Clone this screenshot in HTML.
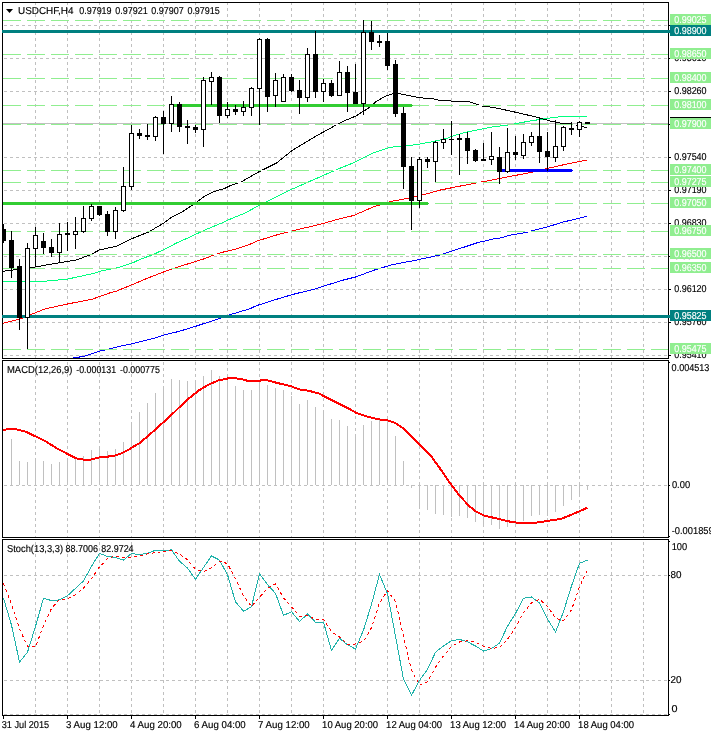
<!DOCTYPE html>
<html lang="en"><head><meta charset="utf-8"><title>USDCHF,H4</title>
<style>html,body{margin:0;padding:0;background:#fff;overflow:hidden}svg{display:block}</style></head>
<body>
<svg width="711" height="733" viewBox="0 0 711 733" shape-rendering="crispEdges" font-family="'Liberation Sans',sans-serif" text-rendering="geometricPrecision">
<defs>
<clipPath id="c1"><rect x="2" y="2" width="666" height="356"/></clipPath>
<clipPath id="c2"><rect x="3" y="361" width="665" height="176"/></clipPath>
<clipPath id="c3"><rect x="3" y="540" width="665" height="175"/></clipPath>
</defs>
<rect x="0" y="0" width="711" height="733" fill="#fff"/>
<path d="M35 3v2h1v-2zM35 8v3h1v-3zM35 14v3h1v-3zM35 20v3h1v-3zM35 26v3h1v-3zM35 32v3h1v-3zM35 38v3h1v-3zM35 44v3h1v-3zM35 50v3h1v-3zM35 56v3h1v-3zM35 62v3h1v-3zM35 68v3h1v-3zM35 74v3h1v-3zM35 80v3h1v-3zM35 86v3h1v-3zM35 92v3h1v-3zM35 98v3h1v-3zM35 104v3h1v-3zM35 110v3h1v-3zM35 116v3h1v-3zM35 122v3h1v-3zM35 128v3h1v-3zM35 134v3h1v-3zM35 140v3h1v-3zM35 146v3h1v-3zM35 152v3h1v-3zM35 158v3h1v-3zM35 164v3h1v-3zM35 170v3h1v-3zM35 176v3h1v-3zM35 182v3h1v-3zM35 188v3h1v-3zM35 194v3h1v-3zM35 200v3h1v-3zM35 206v3h1v-3zM35 212v3h1v-3zM35 218v3h1v-3zM35 224v3h1v-3zM35 230v3h1v-3zM35 236v3h1v-3zM35 242v3h1v-3zM35 248v3h1v-3zM35 254v3h1v-3zM35 260v3h1v-3zM35 266v3h1v-3zM35 272v3h1v-3zM35 278v3h1v-3zM35 284v3h1v-3zM35 290v3h1v-3zM35 296v3h1v-3zM35 302v3h1v-3zM35 308v3h1v-3zM35 314v3h1v-3zM35 320v3h1v-3zM35 326v3h1v-3zM35 332v3h1v-3zM35 338v3h1v-3zM35 344v3h1v-3zM35 350v3h1v-3zM35 356v2h1v-2z" fill="#c0c0c0"/>
<path d="M67 3v2h1v-2zM67 8v3h1v-3zM67 14v3h1v-3zM67 20v3h1v-3zM67 26v3h1v-3zM67 32v3h1v-3zM67 38v3h1v-3zM67 44v3h1v-3zM67 50v3h1v-3zM67 56v3h1v-3zM67 62v3h1v-3zM67 68v3h1v-3zM67 74v3h1v-3zM67 80v3h1v-3zM67 86v3h1v-3zM67 92v3h1v-3zM67 98v3h1v-3zM67 104v3h1v-3zM67 110v3h1v-3zM67 116v3h1v-3zM67 122v3h1v-3zM67 128v3h1v-3zM67 134v3h1v-3zM67 140v3h1v-3zM67 146v3h1v-3zM67 152v3h1v-3zM67 158v3h1v-3zM67 164v3h1v-3zM67 170v3h1v-3zM67 176v3h1v-3zM67 182v3h1v-3zM67 188v3h1v-3zM67 194v3h1v-3zM67 200v3h1v-3zM67 206v3h1v-3zM67 212v3h1v-3zM67 218v3h1v-3zM67 224v3h1v-3zM67 230v3h1v-3zM67 236v3h1v-3zM67 242v3h1v-3zM67 248v3h1v-3zM67 254v3h1v-3zM67 260v3h1v-3zM67 266v3h1v-3zM67 272v3h1v-3zM67 278v3h1v-3zM67 284v3h1v-3zM67 290v3h1v-3zM67 296v3h1v-3zM67 302v3h1v-3zM67 308v3h1v-3zM67 314v3h1v-3zM67 320v3h1v-3zM67 326v3h1v-3zM67 332v3h1v-3zM67 338v3h1v-3zM67 344v3h1v-3zM67 350v3h1v-3zM67 356v2h1v-2z" fill="#c0c0c0"/>
<path d="M99 3v2h1v-2zM99 8v3h1v-3zM99 14v3h1v-3zM99 20v3h1v-3zM99 26v3h1v-3zM99 32v3h1v-3zM99 38v3h1v-3zM99 44v3h1v-3zM99 50v3h1v-3zM99 56v3h1v-3zM99 62v3h1v-3zM99 68v3h1v-3zM99 74v3h1v-3zM99 80v3h1v-3zM99 86v3h1v-3zM99 92v3h1v-3zM99 98v3h1v-3zM99 104v3h1v-3zM99 110v3h1v-3zM99 116v3h1v-3zM99 122v3h1v-3zM99 128v3h1v-3zM99 134v3h1v-3zM99 140v3h1v-3zM99 146v3h1v-3zM99 152v3h1v-3zM99 158v3h1v-3zM99 164v3h1v-3zM99 170v3h1v-3zM99 176v3h1v-3zM99 182v3h1v-3zM99 188v3h1v-3zM99 194v3h1v-3zM99 200v3h1v-3zM99 206v3h1v-3zM99 212v3h1v-3zM99 218v3h1v-3zM99 224v3h1v-3zM99 230v3h1v-3zM99 236v3h1v-3zM99 242v3h1v-3zM99 248v3h1v-3zM99 254v3h1v-3zM99 260v3h1v-3zM99 266v3h1v-3zM99 272v3h1v-3zM99 278v3h1v-3zM99 284v3h1v-3zM99 290v3h1v-3zM99 296v3h1v-3zM99 302v3h1v-3zM99 308v3h1v-3zM99 314v3h1v-3zM99 320v3h1v-3zM99 326v3h1v-3zM99 332v3h1v-3zM99 338v3h1v-3zM99 344v3h1v-3zM99 350v3h1v-3zM99 356v2h1v-2z" fill="#c0c0c0"/>
<path d="M131 3v2h1v-2zM131 8v3h1v-3zM131 14v3h1v-3zM131 20v3h1v-3zM131 26v3h1v-3zM131 32v3h1v-3zM131 38v3h1v-3zM131 44v3h1v-3zM131 50v3h1v-3zM131 56v3h1v-3zM131 62v3h1v-3zM131 68v3h1v-3zM131 74v3h1v-3zM131 80v3h1v-3zM131 86v3h1v-3zM131 92v3h1v-3zM131 98v3h1v-3zM131 104v3h1v-3zM131 110v3h1v-3zM131 116v3h1v-3zM131 122v3h1v-3zM131 128v3h1v-3zM131 134v3h1v-3zM131 140v3h1v-3zM131 146v3h1v-3zM131 152v3h1v-3zM131 158v3h1v-3zM131 164v3h1v-3zM131 170v3h1v-3zM131 176v3h1v-3zM131 182v3h1v-3zM131 188v3h1v-3zM131 194v3h1v-3zM131 200v3h1v-3zM131 206v3h1v-3zM131 212v3h1v-3zM131 218v3h1v-3zM131 224v3h1v-3zM131 230v3h1v-3zM131 236v3h1v-3zM131 242v3h1v-3zM131 248v3h1v-3zM131 254v3h1v-3zM131 260v3h1v-3zM131 266v3h1v-3zM131 272v3h1v-3zM131 278v3h1v-3zM131 284v3h1v-3zM131 290v3h1v-3zM131 296v3h1v-3zM131 302v3h1v-3zM131 308v3h1v-3zM131 314v3h1v-3zM131 320v3h1v-3zM131 326v3h1v-3zM131 332v3h1v-3zM131 338v3h1v-3zM131 344v3h1v-3zM131 350v3h1v-3zM131 356v2h1v-2z" fill="#c0c0c0"/>
<path d="M163 3v2h1v-2zM163 8v3h1v-3zM163 14v3h1v-3zM163 20v3h1v-3zM163 26v3h1v-3zM163 32v3h1v-3zM163 38v3h1v-3zM163 44v3h1v-3zM163 50v3h1v-3zM163 56v3h1v-3zM163 62v3h1v-3zM163 68v3h1v-3zM163 74v3h1v-3zM163 80v3h1v-3zM163 86v3h1v-3zM163 92v3h1v-3zM163 98v3h1v-3zM163 104v3h1v-3zM163 110v3h1v-3zM163 116v3h1v-3zM163 122v3h1v-3zM163 128v3h1v-3zM163 134v3h1v-3zM163 140v3h1v-3zM163 146v3h1v-3zM163 152v3h1v-3zM163 158v3h1v-3zM163 164v3h1v-3zM163 170v3h1v-3zM163 176v3h1v-3zM163 182v3h1v-3zM163 188v3h1v-3zM163 194v3h1v-3zM163 200v3h1v-3zM163 206v3h1v-3zM163 212v3h1v-3zM163 218v3h1v-3zM163 224v3h1v-3zM163 230v3h1v-3zM163 236v3h1v-3zM163 242v3h1v-3zM163 248v3h1v-3zM163 254v3h1v-3zM163 260v3h1v-3zM163 266v3h1v-3zM163 272v3h1v-3zM163 278v3h1v-3zM163 284v3h1v-3zM163 290v3h1v-3zM163 296v3h1v-3zM163 302v3h1v-3zM163 308v3h1v-3zM163 314v3h1v-3zM163 320v3h1v-3zM163 326v3h1v-3zM163 332v3h1v-3zM163 338v3h1v-3zM163 344v3h1v-3zM163 350v3h1v-3zM163 356v2h1v-2z" fill="#c0c0c0"/>
<path d="M195 3v2h1v-2zM195 8v3h1v-3zM195 14v3h1v-3zM195 20v3h1v-3zM195 26v3h1v-3zM195 32v3h1v-3zM195 38v3h1v-3zM195 44v3h1v-3zM195 50v3h1v-3zM195 56v3h1v-3zM195 62v3h1v-3zM195 68v3h1v-3zM195 74v3h1v-3zM195 80v3h1v-3zM195 86v3h1v-3zM195 92v3h1v-3zM195 98v3h1v-3zM195 104v3h1v-3zM195 110v3h1v-3zM195 116v3h1v-3zM195 122v3h1v-3zM195 128v3h1v-3zM195 134v3h1v-3zM195 140v3h1v-3zM195 146v3h1v-3zM195 152v3h1v-3zM195 158v3h1v-3zM195 164v3h1v-3zM195 170v3h1v-3zM195 176v3h1v-3zM195 182v3h1v-3zM195 188v3h1v-3zM195 194v3h1v-3zM195 200v3h1v-3zM195 206v3h1v-3zM195 212v3h1v-3zM195 218v3h1v-3zM195 224v3h1v-3zM195 230v3h1v-3zM195 236v3h1v-3zM195 242v3h1v-3zM195 248v3h1v-3zM195 254v3h1v-3zM195 260v3h1v-3zM195 266v3h1v-3zM195 272v3h1v-3zM195 278v3h1v-3zM195 284v3h1v-3zM195 290v3h1v-3zM195 296v3h1v-3zM195 302v3h1v-3zM195 308v3h1v-3zM195 314v3h1v-3zM195 320v3h1v-3zM195 326v3h1v-3zM195 332v3h1v-3zM195 338v3h1v-3zM195 344v3h1v-3zM195 350v3h1v-3zM195 356v2h1v-2z" fill="#c0c0c0"/>
<path d="M227 3v2h1v-2zM227 8v3h1v-3zM227 14v3h1v-3zM227 20v3h1v-3zM227 26v3h1v-3zM227 32v3h1v-3zM227 38v3h1v-3zM227 44v3h1v-3zM227 50v3h1v-3zM227 56v3h1v-3zM227 62v3h1v-3zM227 68v3h1v-3zM227 74v3h1v-3zM227 80v3h1v-3zM227 86v3h1v-3zM227 92v3h1v-3zM227 98v3h1v-3zM227 104v3h1v-3zM227 110v3h1v-3zM227 116v3h1v-3zM227 122v3h1v-3zM227 128v3h1v-3zM227 134v3h1v-3zM227 140v3h1v-3zM227 146v3h1v-3zM227 152v3h1v-3zM227 158v3h1v-3zM227 164v3h1v-3zM227 170v3h1v-3zM227 176v3h1v-3zM227 182v3h1v-3zM227 188v3h1v-3zM227 194v3h1v-3zM227 200v3h1v-3zM227 206v3h1v-3zM227 212v3h1v-3zM227 218v3h1v-3zM227 224v3h1v-3zM227 230v3h1v-3zM227 236v3h1v-3zM227 242v3h1v-3zM227 248v3h1v-3zM227 254v3h1v-3zM227 260v3h1v-3zM227 266v3h1v-3zM227 272v3h1v-3zM227 278v3h1v-3zM227 284v3h1v-3zM227 290v3h1v-3zM227 296v3h1v-3zM227 302v3h1v-3zM227 308v3h1v-3zM227 314v3h1v-3zM227 320v3h1v-3zM227 326v3h1v-3zM227 332v3h1v-3zM227 338v3h1v-3zM227 344v3h1v-3zM227 350v3h1v-3zM227 356v2h1v-2z" fill="#c0c0c0"/>
<path d="M259 3v2h1v-2zM259 8v3h1v-3zM259 14v3h1v-3zM259 20v3h1v-3zM259 26v3h1v-3zM259 32v3h1v-3zM259 38v3h1v-3zM259 44v3h1v-3zM259 50v3h1v-3zM259 56v3h1v-3zM259 62v3h1v-3zM259 68v3h1v-3zM259 74v3h1v-3zM259 80v3h1v-3zM259 86v3h1v-3zM259 92v3h1v-3zM259 98v3h1v-3zM259 104v3h1v-3zM259 110v3h1v-3zM259 116v3h1v-3zM259 122v3h1v-3zM259 128v3h1v-3zM259 134v3h1v-3zM259 140v3h1v-3zM259 146v3h1v-3zM259 152v3h1v-3zM259 158v3h1v-3zM259 164v3h1v-3zM259 170v3h1v-3zM259 176v3h1v-3zM259 182v3h1v-3zM259 188v3h1v-3zM259 194v3h1v-3zM259 200v3h1v-3zM259 206v3h1v-3zM259 212v3h1v-3zM259 218v3h1v-3zM259 224v3h1v-3zM259 230v3h1v-3zM259 236v3h1v-3zM259 242v3h1v-3zM259 248v3h1v-3zM259 254v3h1v-3zM259 260v3h1v-3zM259 266v3h1v-3zM259 272v3h1v-3zM259 278v3h1v-3zM259 284v3h1v-3zM259 290v3h1v-3zM259 296v3h1v-3zM259 302v3h1v-3zM259 308v3h1v-3zM259 314v3h1v-3zM259 320v3h1v-3zM259 326v3h1v-3zM259 332v3h1v-3zM259 338v3h1v-3zM259 344v3h1v-3zM259 350v3h1v-3zM259 356v2h1v-2z" fill="#c0c0c0"/>
<path d="M291 3v2h1v-2zM291 8v3h1v-3zM291 14v3h1v-3zM291 20v3h1v-3zM291 26v3h1v-3zM291 32v3h1v-3zM291 38v3h1v-3zM291 44v3h1v-3zM291 50v3h1v-3zM291 56v3h1v-3zM291 62v3h1v-3zM291 68v3h1v-3zM291 74v3h1v-3zM291 80v3h1v-3zM291 86v3h1v-3zM291 92v3h1v-3zM291 98v3h1v-3zM291 104v3h1v-3zM291 110v3h1v-3zM291 116v3h1v-3zM291 122v3h1v-3zM291 128v3h1v-3zM291 134v3h1v-3zM291 140v3h1v-3zM291 146v3h1v-3zM291 152v3h1v-3zM291 158v3h1v-3zM291 164v3h1v-3zM291 170v3h1v-3zM291 176v3h1v-3zM291 182v3h1v-3zM291 188v3h1v-3zM291 194v3h1v-3zM291 200v3h1v-3zM291 206v3h1v-3zM291 212v3h1v-3zM291 218v3h1v-3zM291 224v3h1v-3zM291 230v3h1v-3zM291 236v3h1v-3zM291 242v3h1v-3zM291 248v3h1v-3zM291 254v3h1v-3zM291 260v3h1v-3zM291 266v3h1v-3zM291 272v3h1v-3zM291 278v3h1v-3zM291 284v3h1v-3zM291 290v3h1v-3zM291 296v3h1v-3zM291 302v3h1v-3zM291 308v3h1v-3zM291 314v3h1v-3zM291 320v3h1v-3zM291 326v3h1v-3zM291 332v3h1v-3zM291 338v3h1v-3zM291 344v3h1v-3zM291 350v3h1v-3zM291 356v2h1v-2z" fill="#c0c0c0"/>
<path d="M323 3v2h1v-2zM323 8v3h1v-3zM323 14v3h1v-3zM323 20v3h1v-3zM323 26v3h1v-3zM323 32v3h1v-3zM323 38v3h1v-3zM323 44v3h1v-3zM323 50v3h1v-3zM323 56v3h1v-3zM323 62v3h1v-3zM323 68v3h1v-3zM323 74v3h1v-3zM323 80v3h1v-3zM323 86v3h1v-3zM323 92v3h1v-3zM323 98v3h1v-3zM323 104v3h1v-3zM323 110v3h1v-3zM323 116v3h1v-3zM323 122v3h1v-3zM323 128v3h1v-3zM323 134v3h1v-3zM323 140v3h1v-3zM323 146v3h1v-3zM323 152v3h1v-3zM323 158v3h1v-3zM323 164v3h1v-3zM323 170v3h1v-3zM323 176v3h1v-3zM323 182v3h1v-3zM323 188v3h1v-3zM323 194v3h1v-3zM323 200v3h1v-3zM323 206v3h1v-3zM323 212v3h1v-3zM323 218v3h1v-3zM323 224v3h1v-3zM323 230v3h1v-3zM323 236v3h1v-3zM323 242v3h1v-3zM323 248v3h1v-3zM323 254v3h1v-3zM323 260v3h1v-3zM323 266v3h1v-3zM323 272v3h1v-3zM323 278v3h1v-3zM323 284v3h1v-3zM323 290v3h1v-3zM323 296v3h1v-3zM323 302v3h1v-3zM323 308v3h1v-3zM323 314v3h1v-3zM323 320v3h1v-3zM323 326v3h1v-3zM323 332v3h1v-3zM323 338v3h1v-3zM323 344v3h1v-3zM323 350v3h1v-3zM323 356v2h1v-2z" fill="#c0c0c0"/>
<path d="M355 3v2h1v-2zM355 8v3h1v-3zM355 14v3h1v-3zM355 20v3h1v-3zM355 26v3h1v-3zM355 32v3h1v-3zM355 38v3h1v-3zM355 44v3h1v-3zM355 50v3h1v-3zM355 56v3h1v-3zM355 62v3h1v-3zM355 68v3h1v-3zM355 74v3h1v-3zM355 80v3h1v-3zM355 86v3h1v-3zM355 92v3h1v-3zM355 98v3h1v-3zM355 104v3h1v-3zM355 110v3h1v-3zM355 116v3h1v-3zM355 122v3h1v-3zM355 128v3h1v-3zM355 134v3h1v-3zM355 140v3h1v-3zM355 146v3h1v-3zM355 152v3h1v-3zM355 158v3h1v-3zM355 164v3h1v-3zM355 170v3h1v-3zM355 176v3h1v-3zM355 182v3h1v-3zM355 188v3h1v-3zM355 194v3h1v-3zM355 200v3h1v-3zM355 206v3h1v-3zM355 212v3h1v-3zM355 218v3h1v-3zM355 224v3h1v-3zM355 230v3h1v-3zM355 236v3h1v-3zM355 242v3h1v-3zM355 248v3h1v-3zM355 254v3h1v-3zM355 260v3h1v-3zM355 266v3h1v-3zM355 272v3h1v-3zM355 278v3h1v-3zM355 284v3h1v-3zM355 290v3h1v-3zM355 296v3h1v-3zM355 302v3h1v-3zM355 308v3h1v-3zM355 314v3h1v-3zM355 320v3h1v-3zM355 326v3h1v-3zM355 332v3h1v-3zM355 338v3h1v-3zM355 344v3h1v-3zM355 350v3h1v-3zM355 356v2h1v-2z" fill="#c0c0c0"/>
<path d="M387 3v2h1v-2zM387 8v3h1v-3zM387 14v3h1v-3zM387 20v3h1v-3zM387 26v3h1v-3zM387 32v3h1v-3zM387 38v3h1v-3zM387 44v3h1v-3zM387 50v3h1v-3zM387 56v3h1v-3zM387 62v3h1v-3zM387 68v3h1v-3zM387 74v3h1v-3zM387 80v3h1v-3zM387 86v3h1v-3zM387 92v3h1v-3zM387 98v3h1v-3zM387 104v3h1v-3zM387 110v3h1v-3zM387 116v3h1v-3zM387 122v3h1v-3zM387 128v3h1v-3zM387 134v3h1v-3zM387 140v3h1v-3zM387 146v3h1v-3zM387 152v3h1v-3zM387 158v3h1v-3zM387 164v3h1v-3zM387 170v3h1v-3zM387 176v3h1v-3zM387 182v3h1v-3zM387 188v3h1v-3zM387 194v3h1v-3zM387 200v3h1v-3zM387 206v3h1v-3zM387 212v3h1v-3zM387 218v3h1v-3zM387 224v3h1v-3zM387 230v3h1v-3zM387 236v3h1v-3zM387 242v3h1v-3zM387 248v3h1v-3zM387 254v3h1v-3zM387 260v3h1v-3zM387 266v3h1v-3zM387 272v3h1v-3zM387 278v3h1v-3zM387 284v3h1v-3zM387 290v3h1v-3zM387 296v3h1v-3zM387 302v3h1v-3zM387 308v3h1v-3zM387 314v3h1v-3zM387 320v3h1v-3zM387 326v3h1v-3zM387 332v3h1v-3zM387 338v3h1v-3zM387 344v3h1v-3zM387 350v3h1v-3zM387 356v2h1v-2z" fill="#c0c0c0"/>
<path d="M419 3v2h1v-2zM419 8v3h1v-3zM419 14v3h1v-3zM419 20v3h1v-3zM419 26v3h1v-3zM419 32v3h1v-3zM419 38v3h1v-3zM419 44v3h1v-3zM419 50v3h1v-3zM419 56v3h1v-3zM419 62v3h1v-3zM419 68v3h1v-3zM419 74v3h1v-3zM419 80v3h1v-3zM419 86v3h1v-3zM419 92v3h1v-3zM419 98v3h1v-3zM419 104v3h1v-3zM419 110v3h1v-3zM419 116v3h1v-3zM419 122v3h1v-3zM419 128v3h1v-3zM419 134v3h1v-3zM419 140v3h1v-3zM419 146v3h1v-3zM419 152v3h1v-3zM419 158v3h1v-3zM419 164v3h1v-3zM419 170v3h1v-3zM419 176v3h1v-3zM419 182v3h1v-3zM419 188v3h1v-3zM419 194v3h1v-3zM419 200v3h1v-3zM419 206v3h1v-3zM419 212v3h1v-3zM419 218v3h1v-3zM419 224v3h1v-3zM419 230v3h1v-3zM419 236v3h1v-3zM419 242v3h1v-3zM419 248v3h1v-3zM419 254v3h1v-3zM419 260v3h1v-3zM419 266v3h1v-3zM419 272v3h1v-3zM419 278v3h1v-3zM419 284v3h1v-3zM419 290v3h1v-3zM419 296v3h1v-3zM419 302v3h1v-3zM419 308v3h1v-3zM419 314v3h1v-3zM419 320v3h1v-3zM419 326v3h1v-3zM419 332v3h1v-3zM419 338v3h1v-3zM419 344v3h1v-3zM419 350v3h1v-3zM419 356v2h1v-2z" fill="#c0c0c0"/>
<path d="M451 3v2h1v-2zM451 8v3h1v-3zM451 14v3h1v-3zM451 20v3h1v-3zM451 26v3h1v-3zM451 32v3h1v-3zM451 38v3h1v-3zM451 44v3h1v-3zM451 50v3h1v-3zM451 56v3h1v-3zM451 62v3h1v-3zM451 68v3h1v-3zM451 74v3h1v-3zM451 80v3h1v-3zM451 86v3h1v-3zM451 92v3h1v-3zM451 98v3h1v-3zM451 104v3h1v-3zM451 110v3h1v-3zM451 116v3h1v-3zM451 122v3h1v-3zM451 128v3h1v-3zM451 134v3h1v-3zM451 140v3h1v-3zM451 146v3h1v-3zM451 152v3h1v-3zM451 158v3h1v-3zM451 164v3h1v-3zM451 170v3h1v-3zM451 176v3h1v-3zM451 182v3h1v-3zM451 188v3h1v-3zM451 194v3h1v-3zM451 200v3h1v-3zM451 206v3h1v-3zM451 212v3h1v-3zM451 218v3h1v-3zM451 224v3h1v-3zM451 230v3h1v-3zM451 236v3h1v-3zM451 242v3h1v-3zM451 248v3h1v-3zM451 254v3h1v-3zM451 260v3h1v-3zM451 266v3h1v-3zM451 272v3h1v-3zM451 278v3h1v-3zM451 284v3h1v-3zM451 290v3h1v-3zM451 296v3h1v-3zM451 302v3h1v-3zM451 308v3h1v-3zM451 314v3h1v-3zM451 320v3h1v-3zM451 326v3h1v-3zM451 332v3h1v-3zM451 338v3h1v-3zM451 344v3h1v-3zM451 350v3h1v-3zM451 356v2h1v-2z" fill="#c0c0c0"/>
<path d="M483 3v2h1v-2zM483 8v3h1v-3zM483 14v3h1v-3zM483 20v3h1v-3zM483 26v3h1v-3zM483 32v3h1v-3zM483 38v3h1v-3zM483 44v3h1v-3zM483 50v3h1v-3zM483 56v3h1v-3zM483 62v3h1v-3zM483 68v3h1v-3zM483 74v3h1v-3zM483 80v3h1v-3zM483 86v3h1v-3zM483 92v3h1v-3zM483 98v3h1v-3zM483 104v3h1v-3zM483 110v3h1v-3zM483 116v3h1v-3zM483 122v3h1v-3zM483 128v3h1v-3zM483 134v3h1v-3zM483 140v3h1v-3zM483 146v3h1v-3zM483 152v3h1v-3zM483 158v3h1v-3zM483 164v3h1v-3zM483 170v3h1v-3zM483 176v3h1v-3zM483 182v3h1v-3zM483 188v3h1v-3zM483 194v3h1v-3zM483 200v3h1v-3zM483 206v3h1v-3zM483 212v3h1v-3zM483 218v3h1v-3zM483 224v3h1v-3zM483 230v3h1v-3zM483 236v3h1v-3zM483 242v3h1v-3zM483 248v3h1v-3zM483 254v3h1v-3zM483 260v3h1v-3zM483 266v3h1v-3zM483 272v3h1v-3zM483 278v3h1v-3zM483 284v3h1v-3zM483 290v3h1v-3zM483 296v3h1v-3zM483 302v3h1v-3zM483 308v3h1v-3zM483 314v3h1v-3zM483 320v3h1v-3zM483 326v3h1v-3zM483 332v3h1v-3zM483 338v3h1v-3zM483 344v3h1v-3zM483 350v3h1v-3zM483 356v2h1v-2z" fill="#c0c0c0"/>
<path d="M515 3v2h1v-2zM515 8v3h1v-3zM515 14v3h1v-3zM515 20v3h1v-3zM515 26v3h1v-3zM515 32v3h1v-3zM515 38v3h1v-3zM515 44v3h1v-3zM515 50v3h1v-3zM515 56v3h1v-3zM515 62v3h1v-3zM515 68v3h1v-3zM515 74v3h1v-3zM515 80v3h1v-3zM515 86v3h1v-3zM515 92v3h1v-3zM515 98v3h1v-3zM515 104v3h1v-3zM515 110v3h1v-3zM515 116v3h1v-3zM515 122v3h1v-3zM515 128v3h1v-3zM515 134v3h1v-3zM515 140v3h1v-3zM515 146v3h1v-3zM515 152v3h1v-3zM515 158v3h1v-3zM515 164v3h1v-3zM515 170v3h1v-3zM515 176v3h1v-3zM515 182v3h1v-3zM515 188v3h1v-3zM515 194v3h1v-3zM515 200v3h1v-3zM515 206v3h1v-3zM515 212v3h1v-3zM515 218v3h1v-3zM515 224v3h1v-3zM515 230v3h1v-3zM515 236v3h1v-3zM515 242v3h1v-3zM515 248v3h1v-3zM515 254v3h1v-3zM515 260v3h1v-3zM515 266v3h1v-3zM515 272v3h1v-3zM515 278v3h1v-3zM515 284v3h1v-3zM515 290v3h1v-3zM515 296v3h1v-3zM515 302v3h1v-3zM515 308v3h1v-3zM515 314v3h1v-3zM515 320v3h1v-3zM515 326v3h1v-3zM515 332v3h1v-3zM515 338v3h1v-3zM515 344v3h1v-3zM515 350v3h1v-3zM515 356v2h1v-2z" fill="#c0c0c0"/>
<path d="M547 3v2h1v-2zM547 8v3h1v-3zM547 14v3h1v-3zM547 20v3h1v-3zM547 26v3h1v-3zM547 32v3h1v-3zM547 38v3h1v-3zM547 44v3h1v-3zM547 50v3h1v-3zM547 56v3h1v-3zM547 62v3h1v-3zM547 68v3h1v-3zM547 74v3h1v-3zM547 80v3h1v-3zM547 86v3h1v-3zM547 92v3h1v-3zM547 98v3h1v-3zM547 104v3h1v-3zM547 110v3h1v-3zM547 116v3h1v-3zM547 122v3h1v-3zM547 128v3h1v-3zM547 134v3h1v-3zM547 140v3h1v-3zM547 146v3h1v-3zM547 152v3h1v-3zM547 158v3h1v-3zM547 164v3h1v-3zM547 170v3h1v-3zM547 176v3h1v-3zM547 182v3h1v-3zM547 188v3h1v-3zM547 194v3h1v-3zM547 200v3h1v-3zM547 206v3h1v-3zM547 212v3h1v-3zM547 218v3h1v-3zM547 224v3h1v-3zM547 230v3h1v-3zM547 236v3h1v-3zM547 242v3h1v-3zM547 248v3h1v-3zM547 254v3h1v-3zM547 260v3h1v-3zM547 266v3h1v-3zM547 272v3h1v-3zM547 278v3h1v-3zM547 284v3h1v-3zM547 290v3h1v-3zM547 296v3h1v-3zM547 302v3h1v-3zM547 308v3h1v-3zM547 314v3h1v-3zM547 320v3h1v-3zM547 326v3h1v-3zM547 332v3h1v-3zM547 338v3h1v-3zM547 344v3h1v-3zM547 350v3h1v-3zM547 356v2h1v-2z" fill="#c0c0c0"/>
<path d="M579 3v2h1v-2zM579 8v3h1v-3zM579 14v3h1v-3zM579 20v3h1v-3zM579 26v3h1v-3zM579 32v3h1v-3zM579 38v3h1v-3zM579 44v3h1v-3zM579 50v3h1v-3zM579 56v3h1v-3zM579 62v3h1v-3zM579 68v3h1v-3zM579 74v3h1v-3zM579 80v3h1v-3zM579 86v3h1v-3zM579 92v3h1v-3zM579 98v3h1v-3zM579 104v3h1v-3zM579 110v3h1v-3zM579 116v3h1v-3zM579 122v3h1v-3zM579 128v3h1v-3zM579 134v3h1v-3zM579 140v3h1v-3zM579 146v3h1v-3zM579 152v3h1v-3zM579 158v3h1v-3zM579 164v3h1v-3zM579 170v3h1v-3zM579 176v3h1v-3zM579 182v3h1v-3zM579 188v3h1v-3zM579 194v3h1v-3zM579 200v3h1v-3zM579 206v3h1v-3zM579 212v3h1v-3zM579 218v3h1v-3zM579 224v3h1v-3zM579 230v3h1v-3zM579 236v3h1v-3zM579 242v3h1v-3zM579 248v3h1v-3zM579 254v3h1v-3zM579 260v3h1v-3zM579 266v3h1v-3zM579 272v3h1v-3zM579 278v3h1v-3zM579 284v3h1v-3zM579 290v3h1v-3zM579 296v3h1v-3zM579 302v3h1v-3zM579 308v3h1v-3zM579 314v3h1v-3zM579 320v3h1v-3zM579 326v3h1v-3zM579 332v3h1v-3zM579 338v3h1v-3zM579 344v3h1v-3zM579 350v3h1v-3zM579 356v2h1v-2z" fill="#c0c0c0"/>
<path d="M611 3v2h1v-2zM611 8v3h1v-3zM611 14v3h1v-3zM611 20v3h1v-3zM611 26v3h1v-3zM611 32v3h1v-3zM611 38v3h1v-3zM611 44v3h1v-3zM611 50v3h1v-3zM611 56v3h1v-3zM611 62v3h1v-3zM611 68v3h1v-3zM611 74v3h1v-3zM611 80v3h1v-3zM611 86v3h1v-3zM611 92v3h1v-3zM611 98v3h1v-3zM611 104v3h1v-3zM611 110v3h1v-3zM611 116v3h1v-3zM611 122v3h1v-3zM611 128v3h1v-3zM611 134v3h1v-3zM611 140v3h1v-3zM611 146v3h1v-3zM611 152v3h1v-3zM611 158v3h1v-3zM611 164v3h1v-3zM611 170v3h1v-3zM611 176v3h1v-3zM611 182v3h1v-3zM611 188v3h1v-3zM611 194v3h1v-3zM611 200v3h1v-3zM611 206v3h1v-3zM611 212v3h1v-3zM611 218v3h1v-3zM611 224v3h1v-3zM611 230v3h1v-3zM611 236v3h1v-3zM611 242v3h1v-3zM611 248v3h1v-3zM611 254v3h1v-3zM611 260v3h1v-3zM611 266v3h1v-3zM611 272v3h1v-3zM611 278v3h1v-3zM611 284v3h1v-3zM611 290v3h1v-3zM611 296v3h1v-3zM611 302v3h1v-3zM611 308v3h1v-3zM611 314v3h1v-3zM611 320v3h1v-3zM611 326v3h1v-3zM611 332v3h1v-3zM611 338v3h1v-3zM611 344v3h1v-3zM611 350v3h1v-3zM611 356v2h1v-2z" fill="#c0c0c0"/>
<path d="M643 3v2h1v-2zM643 8v3h1v-3zM643 14v3h1v-3zM643 20v3h1v-3zM643 26v3h1v-3zM643 32v3h1v-3zM643 38v3h1v-3zM643 44v3h1v-3zM643 50v3h1v-3zM643 56v3h1v-3zM643 62v3h1v-3zM643 68v3h1v-3zM643 74v3h1v-3zM643 80v3h1v-3zM643 86v3h1v-3zM643 92v3h1v-3zM643 98v3h1v-3zM643 104v3h1v-3zM643 110v3h1v-3zM643 116v3h1v-3zM643 122v3h1v-3zM643 128v3h1v-3zM643 134v3h1v-3zM643 140v3h1v-3zM643 146v3h1v-3zM643 152v3h1v-3zM643 158v3h1v-3zM643 164v3h1v-3zM643 170v3h1v-3zM643 176v3h1v-3zM643 182v3h1v-3zM643 188v3h1v-3zM643 194v3h1v-3zM643 200v3h1v-3zM643 206v3h1v-3zM643 212v3h1v-3zM643 218v3h1v-3zM643 224v3h1v-3zM643 230v3h1v-3zM643 236v3h1v-3zM643 242v3h1v-3zM643 248v3h1v-3zM643 254v3h1v-3zM643 260v3h1v-3zM643 266v3h1v-3zM643 272v3h1v-3zM643 278v3h1v-3zM643 284v3h1v-3zM643 290v3h1v-3zM643 296v3h1v-3zM643 302v3h1v-3zM643 308v3h1v-3zM643 314v3h1v-3zM643 320v3h1v-3zM643 326v3h1v-3zM643 332v3h1v-3zM643 338v3h1v-3zM643 344v3h1v-3zM643 350v3h1v-3zM643 356v2h1v-2z" fill="#c0c0c0"/>
<path d="M35 362v3h1v-3zM35 368v3h1v-3zM35 374v3h1v-3zM35 380v3h1v-3zM35 386v3h1v-3zM35 392v3h1v-3zM35 398v3h1v-3zM35 404v3h1v-3zM35 410v3h1v-3zM35 416v3h1v-3zM35 422v3h1v-3zM35 428v3h1v-3zM35 434v3h1v-3zM35 440v3h1v-3zM35 446v3h1v-3zM35 452v3h1v-3zM35 458v3h1v-3zM35 464v3h1v-3zM35 470v3h1v-3zM35 476v3h1v-3zM35 482v3h1v-3zM35 488v3h1v-3zM35 494v3h1v-3zM35 500v3h1v-3zM35 506v3h1v-3zM35 512v3h1v-3zM35 518v3h1v-3zM35 524v3h1v-3zM35 530v3h1v-3zM35 536v1h1v-1z" fill="#c0c0c0"/>
<path d="M67 362v3h1v-3zM67 368v3h1v-3zM67 374v3h1v-3zM67 380v3h1v-3zM67 386v3h1v-3zM67 392v3h1v-3zM67 398v3h1v-3zM67 404v3h1v-3zM67 410v3h1v-3zM67 416v3h1v-3zM67 422v3h1v-3zM67 428v3h1v-3zM67 434v3h1v-3zM67 440v3h1v-3zM67 446v3h1v-3zM67 452v3h1v-3zM67 458v3h1v-3zM67 464v3h1v-3zM67 470v3h1v-3zM67 476v3h1v-3zM67 482v3h1v-3zM67 488v3h1v-3zM67 494v3h1v-3zM67 500v3h1v-3zM67 506v3h1v-3zM67 512v3h1v-3zM67 518v3h1v-3zM67 524v3h1v-3zM67 530v3h1v-3zM67 536v1h1v-1z" fill="#c0c0c0"/>
<path d="M99 362v3h1v-3zM99 368v3h1v-3zM99 374v3h1v-3zM99 380v3h1v-3zM99 386v3h1v-3zM99 392v3h1v-3zM99 398v3h1v-3zM99 404v3h1v-3zM99 410v3h1v-3zM99 416v3h1v-3zM99 422v3h1v-3zM99 428v3h1v-3zM99 434v3h1v-3zM99 440v3h1v-3zM99 446v3h1v-3zM99 452v3h1v-3zM99 458v3h1v-3zM99 464v3h1v-3zM99 470v3h1v-3zM99 476v3h1v-3zM99 482v3h1v-3zM99 488v3h1v-3zM99 494v3h1v-3zM99 500v3h1v-3zM99 506v3h1v-3zM99 512v3h1v-3zM99 518v3h1v-3zM99 524v3h1v-3zM99 530v3h1v-3zM99 536v1h1v-1z" fill="#c0c0c0"/>
<path d="M131 362v3h1v-3zM131 368v3h1v-3zM131 374v3h1v-3zM131 380v3h1v-3zM131 386v3h1v-3zM131 392v3h1v-3zM131 398v3h1v-3zM131 404v3h1v-3zM131 410v3h1v-3zM131 416v3h1v-3zM131 422v3h1v-3zM131 428v3h1v-3zM131 434v3h1v-3zM131 440v3h1v-3zM131 446v3h1v-3zM131 452v3h1v-3zM131 458v3h1v-3zM131 464v3h1v-3zM131 470v3h1v-3zM131 476v3h1v-3zM131 482v3h1v-3zM131 488v3h1v-3zM131 494v3h1v-3zM131 500v3h1v-3zM131 506v3h1v-3zM131 512v3h1v-3zM131 518v3h1v-3zM131 524v3h1v-3zM131 530v3h1v-3zM131 536v1h1v-1z" fill="#c0c0c0"/>
<path d="M163 362v3h1v-3zM163 368v3h1v-3zM163 374v3h1v-3zM163 380v3h1v-3zM163 386v3h1v-3zM163 392v3h1v-3zM163 398v3h1v-3zM163 404v3h1v-3zM163 410v3h1v-3zM163 416v3h1v-3zM163 422v3h1v-3zM163 428v3h1v-3zM163 434v3h1v-3zM163 440v3h1v-3zM163 446v3h1v-3zM163 452v3h1v-3zM163 458v3h1v-3zM163 464v3h1v-3zM163 470v3h1v-3zM163 476v3h1v-3zM163 482v3h1v-3zM163 488v3h1v-3zM163 494v3h1v-3zM163 500v3h1v-3zM163 506v3h1v-3zM163 512v3h1v-3zM163 518v3h1v-3zM163 524v3h1v-3zM163 530v3h1v-3zM163 536v1h1v-1z" fill="#c0c0c0"/>
<path d="M195 362v3h1v-3zM195 368v3h1v-3zM195 374v3h1v-3zM195 380v3h1v-3zM195 386v3h1v-3zM195 392v3h1v-3zM195 398v3h1v-3zM195 404v3h1v-3zM195 410v3h1v-3zM195 416v3h1v-3zM195 422v3h1v-3zM195 428v3h1v-3zM195 434v3h1v-3zM195 440v3h1v-3zM195 446v3h1v-3zM195 452v3h1v-3zM195 458v3h1v-3zM195 464v3h1v-3zM195 470v3h1v-3zM195 476v3h1v-3zM195 482v3h1v-3zM195 488v3h1v-3zM195 494v3h1v-3zM195 500v3h1v-3zM195 506v3h1v-3zM195 512v3h1v-3zM195 518v3h1v-3zM195 524v3h1v-3zM195 530v3h1v-3zM195 536v1h1v-1z" fill="#c0c0c0"/>
<path d="M227 362v3h1v-3zM227 368v3h1v-3zM227 374v3h1v-3zM227 380v3h1v-3zM227 386v3h1v-3zM227 392v3h1v-3zM227 398v3h1v-3zM227 404v3h1v-3zM227 410v3h1v-3zM227 416v3h1v-3zM227 422v3h1v-3zM227 428v3h1v-3zM227 434v3h1v-3zM227 440v3h1v-3zM227 446v3h1v-3zM227 452v3h1v-3zM227 458v3h1v-3zM227 464v3h1v-3zM227 470v3h1v-3zM227 476v3h1v-3zM227 482v3h1v-3zM227 488v3h1v-3zM227 494v3h1v-3zM227 500v3h1v-3zM227 506v3h1v-3zM227 512v3h1v-3zM227 518v3h1v-3zM227 524v3h1v-3zM227 530v3h1v-3zM227 536v1h1v-1z" fill="#c0c0c0"/>
<path d="M259 362v3h1v-3zM259 368v3h1v-3zM259 374v3h1v-3zM259 380v3h1v-3zM259 386v3h1v-3zM259 392v3h1v-3zM259 398v3h1v-3zM259 404v3h1v-3zM259 410v3h1v-3zM259 416v3h1v-3zM259 422v3h1v-3zM259 428v3h1v-3zM259 434v3h1v-3zM259 440v3h1v-3zM259 446v3h1v-3zM259 452v3h1v-3zM259 458v3h1v-3zM259 464v3h1v-3zM259 470v3h1v-3zM259 476v3h1v-3zM259 482v3h1v-3zM259 488v3h1v-3zM259 494v3h1v-3zM259 500v3h1v-3zM259 506v3h1v-3zM259 512v3h1v-3zM259 518v3h1v-3zM259 524v3h1v-3zM259 530v3h1v-3zM259 536v1h1v-1z" fill="#c0c0c0"/>
<path d="M291 362v3h1v-3zM291 368v3h1v-3zM291 374v3h1v-3zM291 380v3h1v-3zM291 386v3h1v-3zM291 392v3h1v-3zM291 398v3h1v-3zM291 404v3h1v-3zM291 410v3h1v-3zM291 416v3h1v-3zM291 422v3h1v-3zM291 428v3h1v-3zM291 434v3h1v-3zM291 440v3h1v-3zM291 446v3h1v-3zM291 452v3h1v-3zM291 458v3h1v-3zM291 464v3h1v-3zM291 470v3h1v-3zM291 476v3h1v-3zM291 482v3h1v-3zM291 488v3h1v-3zM291 494v3h1v-3zM291 500v3h1v-3zM291 506v3h1v-3zM291 512v3h1v-3zM291 518v3h1v-3zM291 524v3h1v-3zM291 530v3h1v-3zM291 536v1h1v-1z" fill="#c0c0c0"/>
<path d="M323 362v3h1v-3zM323 368v3h1v-3zM323 374v3h1v-3zM323 380v3h1v-3zM323 386v3h1v-3zM323 392v3h1v-3zM323 398v3h1v-3zM323 404v3h1v-3zM323 410v3h1v-3zM323 416v3h1v-3zM323 422v3h1v-3zM323 428v3h1v-3zM323 434v3h1v-3zM323 440v3h1v-3zM323 446v3h1v-3zM323 452v3h1v-3zM323 458v3h1v-3zM323 464v3h1v-3zM323 470v3h1v-3zM323 476v3h1v-3zM323 482v3h1v-3zM323 488v3h1v-3zM323 494v3h1v-3zM323 500v3h1v-3zM323 506v3h1v-3zM323 512v3h1v-3zM323 518v3h1v-3zM323 524v3h1v-3zM323 530v3h1v-3zM323 536v1h1v-1z" fill="#c0c0c0"/>
<path d="M355 362v3h1v-3zM355 368v3h1v-3zM355 374v3h1v-3zM355 380v3h1v-3zM355 386v3h1v-3zM355 392v3h1v-3zM355 398v3h1v-3zM355 404v3h1v-3zM355 410v3h1v-3zM355 416v3h1v-3zM355 422v3h1v-3zM355 428v3h1v-3zM355 434v3h1v-3zM355 440v3h1v-3zM355 446v3h1v-3zM355 452v3h1v-3zM355 458v3h1v-3zM355 464v3h1v-3zM355 470v3h1v-3zM355 476v3h1v-3zM355 482v3h1v-3zM355 488v3h1v-3zM355 494v3h1v-3zM355 500v3h1v-3zM355 506v3h1v-3zM355 512v3h1v-3zM355 518v3h1v-3zM355 524v3h1v-3zM355 530v3h1v-3zM355 536v1h1v-1z" fill="#c0c0c0"/>
<path d="M387 362v3h1v-3zM387 368v3h1v-3zM387 374v3h1v-3zM387 380v3h1v-3zM387 386v3h1v-3zM387 392v3h1v-3zM387 398v3h1v-3zM387 404v3h1v-3zM387 410v3h1v-3zM387 416v3h1v-3zM387 422v3h1v-3zM387 428v3h1v-3zM387 434v3h1v-3zM387 440v3h1v-3zM387 446v3h1v-3zM387 452v3h1v-3zM387 458v3h1v-3zM387 464v3h1v-3zM387 470v3h1v-3zM387 476v3h1v-3zM387 482v3h1v-3zM387 488v3h1v-3zM387 494v3h1v-3zM387 500v3h1v-3zM387 506v3h1v-3zM387 512v3h1v-3zM387 518v3h1v-3zM387 524v3h1v-3zM387 530v3h1v-3zM387 536v1h1v-1z" fill="#c0c0c0"/>
<path d="M419 362v3h1v-3zM419 368v3h1v-3zM419 374v3h1v-3zM419 380v3h1v-3zM419 386v3h1v-3zM419 392v3h1v-3zM419 398v3h1v-3zM419 404v3h1v-3zM419 410v3h1v-3zM419 416v3h1v-3zM419 422v3h1v-3zM419 428v3h1v-3zM419 434v3h1v-3zM419 440v3h1v-3zM419 446v3h1v-3zM419 452v3h1v-3zM419 458v3h1v-3zM419 464v3h1v-3zM419 470v3h1v-3zM419 476v3h1v-3zM419 482v3h1v-3zM419 488v3h1v-3zM419 494v3h1v-3zM419 500v3h1v-3zM419 506v3h1v-3zM419 512v3h1v-3zM419 518v3h1v-3zM419 524v3h1v-3zM419 530v3h1v-3zM419 536v1h1v-1z" fill="#c0c0c0"/>
<path d="M451 362v3h1v-3zM451 368v3h1v-3zM451 374v3h1v-3zM451 380v3h1v-3zM451 386v3h1v-3zM451 392v3h1v-3zM451 398v3h1v-3zM451 404v3h1v-3zM451 410v3h1v-3zM451 416v3h1v-3zM451 422v3h1v-3zM451 428v3h1v-3zM451 434v3h1v-3zM451 440v3h1v-3zM451 446v3h1v-3zM451 452v3h1v-3zM451 458v3h1v-3zM451 464v3h1v-3zM451 470v3h1v-3zM451 476v3h1v-3zM451 482v3h1v-3zM451 488v3h1v-3zM451 494v3h1v-3zM451 500v3h1v-3zM451 506v3h1v-3zM451 512v3h1v-3zM451 518v3h1v-3zM451 524v3h1v-3zM451 530v3h1v-3zM451 536v1h1v-1z" fill="#c0c0c0"/>
<path d="M483 362v3h1v-3zM483 368v3h1v-3zM483 374v3h1v-3zM483 380v3h1v-3zM483 386v3h1v-3zM483 392v3h1v-3zM483 398v3h1v-3zM483 404v3h1v-3zM483 410v3h1v-3zM483 416v3h1v-3zM483 422v3h1v-3zM483 428v3h1v-3zM483 434v3h1v-3zM483 440v3h1v-3zM483 446v3h1v-3zM483 452v3h1v-3zM483 458v3h1v-3zM483 464v3h1v-3zM483 470v3h1v-3zM483 476v3h1v-3zM483 482v3h1v-3zM483 488v3h1v-3zM483 494v3h1v-3zM483 500v3h1v-3zM483 506v3h1v-3zM483 512v3h1v-3zM483 518v3h1v-3zM483 524v3h1v-3zM483 530v3h1v-3zM483 536v1h1v-1z" fill="#c0c0c0"/>
<path d="M515 362v3h1v-3zM515 368v3h1v-3zM515 374v3h1v-3zM515 380v3h1v-3zM515 386v3h1v-3zM515 392v3h1v-3zM515 398v3h1v-3zM515 404v3h1v-3zM515 410v3h1v-3zM515 416v3h1v-3zM515 422v3h1v-3zM515 428v3h1v-3zM515 434v3h1v-3zM515 440v3h1v-3zM515 446v3h1v-3zM515 452v3h1v-3zM515 458v3h1v-3zM515 464v3h1v-3zM515 470v3h1v-3zM515 476v3h1v-3zM515 482v3h1v-3zM515 488v3h1v-3zM515 494v3h1v-3zM515 500v3h1v-3zM515 506v3h1v-3zM515 512v3h1v-3zM515 518v3h1v-3zM515 524v3h1v-3zM515 530v3h1v-3zM515 536v1h1v-1z" fill="#c0c0c0"/>
<path d="M547 362v3h1v-3zM547 368v3h1v-3zM547 374v3h1v-3zM547 380v3h1v-3zM547 386v3h1v-3zM547 392v3h1v-3zM547 398v3h1v-3zM547 404v3h1v-3zM547 410v3h1v-3zM547 416v3h1v-3zM547 422v3h1v-3zM547 428v3h1v-3zM547 434v3h1v-3zM547 440v3h1v-3zM547 446v3h1v-3zM547 452v3h1v-3zM547 458v3h1v-3zM547 464v3h1v-3zM547 470v3h1v-3zM547 476v3h1v-3zM547 482v3h1v-3zM547 488v3h1v-3zM547 494v3h1v-3zM547 500v3h1v-3zM547 506v3h1v-3zM547 512v3h1v-3zM547 518v3h1v-3zM547 524v3h1v-3zM547 530v3h1v-3zM547 536v1h1v-1z" fill="#c0c0c0"/>
<path d="M579 362v3h1v-3zM579 368v3h1v-3zM579 374v3h1v-3zM579 380v3h1v-3zM579 386v3h1v-3zM579 392v3h1v-3zM579 398v3h1v-3zM579 404v3h1v-3zM579 410v3h1v-3zM579 416v3h1v-3zM579 422v3h1v-3zM579 428v3h1v-3zM579 434v3h1v-3zM579 440v3h1v-3zM579 446v3h1v-3zM579 452v3h1v-3zM579 458v3h1v-3zM579 464v3h1v-3zM579 470v3h1v-3zM579 476v3h1v-3zM579 482v3h1v-3zM579 488v3h1v-3zM579 494v3h1v-3zM579 500v3h1v-3zM579 506v3h1v-3zM579 512v3h1v-3zM579 518v3h1v-3zM579 524v3h1v-3zM579 530v3h1v-3zM579 536v1h1v-1z" fill="#c0c0c0"/>
<path d="M611 362v3h1v-3zM611 368v3h1v-3zM611 374v3h1v-3zM611 380v3h1v-3zM611 386v3h1v-3zM611 392v3h1v-3zM611 398v3h1v-3zM611 404v3h1v-3zM611 410v3h1v-3zM611 416v3h1v-3zM611 422v3h1v-3zM611 428v3h1v-3zM611 434v3h1v-3zM611 440v3h1v-3zM611 446v3h1v-3zM611 452v3h1v-3zM611 458v3h1v-3zM611 464v3h1v-3zM611 470v3h1v-3zM611 476v3h1v-3zM611 482v3h1v-3zM611 488v3h1v-3zM611 494v3h1v-3zM611 500v3h1v-3zM611 506v3h1v-3zM611 512v3h1v-3zM611 518v3h1v-3zM611 524v3h1v-3zM611 530v3h1v-3zM611 536v1h1v-1z" fill="#c0c0c0"/>
<path d="M643 362v3h1v-3zM643 368v3h1v-3zM643 374v3h1v-3zM643 380v3h1v-3zM643 386v3h1v-3zM643 392v3h1v-3zM643 398v3h1v-3zM643 404v3h1v-3zM643 410v3h1v-3zM643 416v3h1v-3zM643 422v3h1v-3zM643 428v3h1v-3zM643 434v3h1v-3zM643 440v3h1v-3zM643 446v3h1v-3zM643 452v3h1v-3zM643 458v3h1v-3zM643 464v3h1v-3zM643 470v3h1v-3zM643 476v3h1v-3zM643 482v3h1v-3zM643 488v3h1v-3zM643 494v3h1v-3zM643 500v3h1v-3zM643 506v3h1v-3zM643 512v3h1v-3zM643 518v3h1v-3zM643 524v3h1v-3zM643 530v3h1v-3zM643 536v1h1v-1z" fill="#c0c0c0"/>
<path d="M35 542v3h1v-3zM35 548v3h1v-3zM35 554v3h1v-3zM35 560v3h1v-3zM35 566v3h1v-3zM35 572v3h1v-3zM35 578v3h1v-3zM35 584v3h1v-3zM35 590v3h1v-3zM35 596v3h1v-3zM35 602v3h1v-3zM35 608v3h1v-3zM35 614v3h1v-3zM35 620v3h1v-3zM35 626v3h1v-3zM35 632v3h1v-3zM35 638v3h1v-3zM35 644v3h1v-3zM35 650v3h1v-3zM35 656v3h1v-3zM35 662v3h1v-3zM35 668v3h1v-3zM35 674v3h1v-3zM35 680v3h1v-3zM35 686v3h1v-3zM35 692v3h1v-3zM35 698v3h1v-3zM35 704v3h1v-3zM35 710v3h1v-3z" fill="#c0c0c0"/>
<path d="M67 542v3h1v-3zM67 548v3h1v-3zM67 554v3h1v-3zM67 560v3h1v-3zM67 566v3h1v-3zM67 572v3h1v-3zM67 578v3h1v-3zM67 584v3h1v-3zM67 590v3h1v-3zM67 596v3h1v-3zM67 602v3h1v-3zM67 608v3h1v-3zM67 614v3h1v-3zM67 620v3h1v-3zM67 626v3h1v-3zM67 632v3h1v-3zM67 638v3h1v-3zM67 644v3h1v-3zM67 650v3h1v-3zM67 656v3h1v-3zM67 662v3h1v-3zM67 668v3h1v-3zM67 674v3h1v-3zM67 680v3h1v-3zM67 686v3h1v-3zM67 692v3h1v-3zM67 698v3h1v-3zM67 704v3h1v-3zM67 710v3h1v-3z" fill="#c0c0c0"/>
<path d="M99 542v3h1v-3zM99 548v3h1v-3zM99 554v3h1v-3zM99 560v3h1v-3zM99 566v3h1v-3zM99 572v3h1v-3zM99 578v3h1v-3zM99 584v3h1v-3zM99 590v3h1v-3zM99 596v3h1v-3zM99 602v3h1v-3zM99 608v3h1v-3zM99 614v3h1v-3zM99 620v3h1v-3zM99 626v3h1v-3zM99 632v3h1v-3zM99 638v3h1v-3zM99 644v3h1v-3zM99 650v3h1v-3zM99 656v3h1v-3zM99 662v3h1v-3zM99 668v3h1v-3zM99 674v3h1v-3zM99 680v3h1v-3zM99 686v3h1v-3zM99 692v3h1v-3zM99 698v3h1v-3zM99 704v3h1v-3zM99 710v3h1v-3z" fill="#c0c0c0"/>
<path d="M131 542v3h1v-3zM131 548v3h1v-3zM131 554v3h1v-3zM131 560v3h1v-3zM131 566v3h1v-3zM131 572v3h1v-3zM131 578v3h1v-3zM131 584v3h1v-3zM131 590v3h1v-3zM131 596v3h1v-3zM131 602v3h1v-3zM131 608v3h1v-3zM131 614v3h1v-3zM131 620v3h1v-3zM131 626v3h1v-3zM131 632v3h1v-3zM131 638v3h1v-3zM131 644v3h1v-3zM131 650v3h1v-3zM131 656v3h1v-3zM131 662v3h1v-3zM131 668v3h1v-3zM131 674v3h1v-3zM131 680v3h1v-3zM131 686v3h1v-3zM131 692v3h1v-3zM131 698v3h1v-3zM131 704v3h1v-3zM131 710v3h1v-3z" fill="#c0c0c0"/>
<path d="M163 542v3h1v-3zM163 548v3h1v-3zM163 554v3h1v-3zM163 560v3h1v-3zM163 566v3h1v-3zM163 572v3h1v-3zM163 578v3h1v-3zM163 584v3h1v-3zM163 590v3h1v-3zM163 596v3h1v-3zM163 602v3h1v-3zM163 608v3h1v-3zM163 614v3h1v-3zM163 620v3h1v-3zM163 626v3h1v-3zM163 632v3h1v-3zM163 638v3h1v-3zM163 644v3h1v-3zM163 650v3h1v-3zM163 656v3h1v-3zM163 662v3h1v-3zM163 668v3h1v-3zM163 674v3h1v-3zM163 680v3h1v-3zM163 686v3h1v-3zM163 692v3h1v-3zM163 698v3h1v-3zM163 704v3h1v-3zM163 710v3h1v-3z" fill="#c0c0c0"/>
<path d="M195 542v3h1v-3zM195 548v3h1v-3zM195 554v3h1v-3zM195 560v3h1v-3zM195 566v3h1v-3zM195 572v3h1v-3zM195 578v3h1v-3zM195 584v3h1v-3zM195 590v3h1v-3zM195 596v3h1v-3zM195 602v3h1v-3zM195 608v3h1v-3zM195 614v3h1v-3zM195 620v3h1v-3zM195 626v3h1v-3zM195 632v3h1v-3zM195 638v3h1v-3zM195 644v3h1v-3zM195 650v3h1v-3zM195 656v3h1v-3zM195 662v3h1v-3zM195 668v3h1v-3zM195 674v3h1v-3zM195 680v3h1v-3zM195 686v3h1v-3zM195 692v3h1v-3zM195 698v3h1v-3zM195 704v3h1v-3zM195 710v3h1v-3z" fill="#c0c0c0"/>
<path d="M227 542v3h1v-3zM227 548v3h1v-3zM227 554v3h1v-3zM227 560v3h1v-3zM227 566v3h1v-3zM227 572v3h1v-3zM227 578v3h1v-3zM227 584v3h1v-3zM227 590v3h1v-3zM227 596v3h1v-3zM227 602v3h1v-3zM227 608v3h1v-3zM227 614v3h1v-3zM227 620v3h1v-3zM227 626v3h1v-3zM227 632v3h1v-3zM227 638v3h1v-3zM227 644v3h1v-3zM227 650v3h1v-3zM227 656v3h1v-3zM227 662v3h1v-3zM227 668v3h1v-3zM227 674v3h1v-3zM227 680v3h1v-3zM227 686v3h1v-3zM227 692v3h1v-3zM227 698v3h1v-3zM227 704v3h1v-3zM227 710v3h1v-3z" fill="#c0c0c0"/>
<path d="M259 542v3h1v-3zM259 548v3h1v-3zM259 554v3h1v-3zM259 560v3h1v-3zM259 566v3h1v-3zM259 572v3h1v-3zM259 578v3h1v-3zM259 584v3h1v-3zM259 590v3h1v-3zM259 596v3h1v-3zM259 602v3h1v-3zM259 608v3h1v-3zM259 614v3h1v-3zM259 620v3h1v-3zM259 626v3h1v-3zM259 632v3h1v-3zM259 638v3h1v-3zM259 644v3h1v-3zM259 650v3h1v-3zM259 656v3h1v-3zM259 662v3h1v-3zM259 668v3h1v-3zM259 674v3h1v-3zM259 680v3h1v-3zM259 686v3h1v-3zM259 692v3h1v-3zM259 698v3h1v-3zM259 704v3h1v-3zM259 710v3h1v-3z" fill="#c0c0c0"/>
<path d="M291 542v3h1v-3zM291 548v3h1v-3zM291 554v3h1v-3zM291 560v3h1v-3zM291 566v3h1v-3zM291 572v3h1v-3zM291 578v3h1v-3zM291 584v3h1v-3zM291 590v3h1v-3zM291 596v3h1v-3zM291 602v3h1v-3zM291 608v3h1v-3zM291 614v3h1v-3zM291 620v3h1v-3zM291 626v3h1v-3zM291 632v3h1v-3zM291 638v3h1v-3zM291 644v3h1v-3zM291 650v3h1v-3zM291 656v3h1v-3zM291 662v3h1v-3zM291 668v3h1v-3zM291 674v3h1v-3zM291 680v3h1v-3zM291 686v3h1v-3zM291 692v3h1v-3zM291 698v3h1v-3zM291 704v3h1v-3zM291 710v3h1v-3z" fill="#c0c0c0"/>
<path d="M323 542v3h1v-3zM323 548v3h1v-3zM323 554v3h1v-3zM323 560v3h1v-3zM323 566v3h1v-3zM323 572v3h1v-3zM323 578v3h1v-3zM323 584v3h1v-3zM323 590v3h1v-3zM323 596v3h1v-3zM323 602v3h1v-3zM323 608v3h1v-3zM323 614v3h1v-3zM323 620v3h1v-3zM323 626v3h1v-3zM323 632v3h1v-3zM323 638v3h1v-3zM323 644v3h1v-3zM323 650v3h1v-3zM323 656v3h1v-3zM323 662v3h1v-3zM323 668v3h1v-3zM323 674v3h1v-3zM323 680v3h1v-3zM323 686v3h1v-3zM323 692v3h1v-3zM323 698v3h1v-3zM323 704v3h1v-3zM323 710v3h1v-3z" fill="#c0c0c0"/>
<path d="M355 542v3h1v-3zM355 548v3h1v-3zM355 554v3h1v-3zM355 560v3h1v-3zM355 566v3h1v-3zM355 572v3h1v-3zM355 578v3h1v-3zM355 584v3h1v-3zM355 590v3h1v-3zM355 596v3h1v-3zM355 602v3h1v-3zM355 608v3h1v-3zM355 614v3h1v-3zM355 620v3h1v-3zM355 626v3h1v-3zM355 632v3h1v-3zM355 638v3h1v-3zM355 644v3h1v-3zM355 650v3h1v-3zM355 656v3h1v-3zM355 662v3h1v-3zM355 668v3h1v-3zM355 674v3h1v-3zM355 680v3h1v-3zM355 686v3h1v-3zM355 692v3h1v-3zM355 698v3h1v-3zM355 704v3h1v-3zM355 710v3h1v-3z" fill="#c0c0c0"/>
<path d="M387 542v3h1v-3zM387 548v3h1v-3zM387 554v3h1v-3zM387 560v3h1v-3zM387 566v3h1v-3zM387 572v3h1v-3zM387 578v3h1v-3zM387 584v3h1v-3zM387 590v3h1v-3zM387 596v3h1v-3zM387 602v3h1v-3zM387 608v3h1v-3zM387 614v3h1v-3zM387 620v3h1v-3zM387 626v3h1v-3zM387 632v3h1v-3zM387 638v3h1v-3zM387 644v3h1v-3zM387 650v3h1v-3zM387 656v3h1v-3zM387 662v3h1v-3zM387 668v3h1v-3zM387 674v3h1v-3zM387 680v3h1v-3zM387 686v3h1v-3zM387 692v3h1v-3zM387 698v3h1v-3zM387 704v3h1v-3zM387 710v3h1v-3z" fill="#c0c0c0"/>
<path d="M419 542v3h1v-3zM419 548v3h1v-3zM419 554v3h1v-3zM419 560v3h1v-3zM419 566v3h1v-3zM419 572v3h1v-3zM419 578v3h1v-3zM419 584v3h1v-3zM419 590v3h1v-3zM419 596v3h1v-3zM419 602v3h1v-3zM419 608v3h1v-3zM419 614v3h1v-3zM419 620v3h1v-3zM419 626v3h1v-3zM419 632v3h1v-3zM419 638v3h1v-3zM419 644v3h1v-3zM419 650v3h1v-3zM419 656v3h1v-3zM419 662v3h1v-3zM419 668v3h1v-3zM419 674v3h1v-3zM419 680v3h1v-3zM419 686v3h1v-3zM419 692v3h1v-3zM419 698v3h1v-3zM419 704v3h1v-3zM419 710v3h1v-3z" fill="#c0c0c0"/>
<path d="M451 542v3h1v-3zM451 548v3h1v-3zM451 554v3h1v-3zM451 560v3h1v-3zM451 566v3h1v-3zM451 572v3h1v-3zM451 578v3h1v-3zM451 584v3h1v-3zM451 590v3h1v-3zM451 596v3h1v-3zM451 602v3h1v-3zM451 608v3h1v-3zM451 614v3h1v-3zM451 620v3h1v-3zM451 626v3h1v-3zM451 632v3h1v-3zM451 638v3h1v-3zM451 644v3h1v-3zM451 650v3h1v-3zM451 656v3h1v-3zM451 662v3h1v-3zM451 668v3h1v-3zM451 674v3h1v-3zM451 680v3h1v-3zM451 686v3h1v-3zM451 692v3h1v-3zM451 698v3h1v-3zM451 704v3h1v-3zM451 710v3h1v-3z" fill="#c0c0c0"/>
<path d="M483 542v3h1v-3zM483 548v3h1v-3zM483 554v3h1v-3zM483 560v3h1v-3zM483 566v3h1v-3zM483 572v3h1v-3zM483 578v3h1v-3zM483 584v3h1v-3zM483 590v3h1v-3zM483 596v3h1v-3zM483 602v3h1v-3zM483 608v3h1v-3zM483 614v3h1v-3zM483 620v3h1v-3zM483 626v3h1v-3zM483 632v3h1v-3zM483 638v3h1v-3zM483 644v3h1v-3zM483 650v3h1v-3zM483 656v3h1v-3zM483 662v3h1v-3zM483 668v3h1v-3zM483 674v3h1v-3zM483 680v3h1v-3zM483 686v3h1v-3zM483 692v3h1v-3zM483 698v3h1v-3zM483 704v3h1v-3zM483 710v3h1v-3z" fill="#c0c0c0"/>
<path d="M515 542v3h1v-3zM515 548v3h1v-3zM515 554v3h1v-3zM515 560v3h1v-3zM515 566v3h1v-3zM515 572v3h1v-3zM515 578v3h1v-3zM515 584v3h1v-3zM515 590v3h1v-3zM515 596v3h1v-3zM515 602v3h1v-3zM515 608v3h1v-3zM515 614v3h1v-3zM515 620v3h1v-3zM515 626v3h1v-3zM515 632v3h1v-3zM515 638v3h1v-3zM515 644v3h1v-3zM515 650v3h1v-3zM515 656v3h1v-3zM515 662v3h1v-3zM515 668v3h1v-3zM515 674v3h1v-3zM515 680v3h1v-3zM515 686v3h1v-3zM515 692v3h1v-3zM515 698v3h1v-3zM515 704v3h1v-3zM515 710v3h1v-3z" fill="#c0c0c0"/>
<path d="M547 542v3h1v-3zM547 548v3h1v-3zM547 554v3h1v-3zM547 560v3h1v-3zM547 566v3h1v-3zM547 572v3h1v-3zM547 578v3h1v-3zM547 584v3h1v-3zM547 590v3h1v-3zM547 596v3h1v-3zM547 602v3h1v-3zM547 608v3h1v-3zM547 614v3h1v-3zM547 620v3h1v-3zM547 626v3h1v-3zM547 632v3h1v-3zM547 638v3h1v-3zM547 644v3h1v-3zM547 650v3h1v-3zM547 656v3h1v-3zM547 662v3h1v-3zM547 668v3h1v-3zM547 674v3h1v-3zM547 680v3h1v-3zM547 686v3h1v-3zM547 692v3h1v-3zM547 698v3h1v-3zM547 704v3h1v-3zM547 710v3h1v-3z" fill="#c0c0c0"/>
<path d="M579 542v3h1v-3zM579 548v3h1v-3zM579 554v3h1v-3zM579 560v3h1v-3zM579 566v3h1v-3zM579 572v3h1v-3zM579 578v3h1v-3zM579 584v3h1v-3zM579 590v3h1v-3zM579 596v3h1v-3zM579 602v3h1v-3zM579 608v3h1v-3zM579 614v3h1v-3zM579 620v3h1v-3zM579 626v3h1v-3zM579 632v3h1v-3zM579 638v3h1v-3zM579 644v3h1v-3zM579 650v3h1v-3zM579 656v3h1v-3zM579 662v3h1v-3zM579 668v3h1v-3zM579 674v3h1v-3zM579 680v3h1v-3zM579 686v3h1v-3zM579 692v3h1v-3zM579 698v3h1v-3zM579 704v3h1v-3zM579 710v3h1v-3z" fill="#c0c0c0"/>
<path d="M611 542v3h1v-3zM611 548v3h1v-3zM611 554v3h1v-3zM611 560v3h1v-3zM611 566v3h1v-3zM611 572v3h1v-3zM611 578v3h1v-3zM611 584v3h1v-3zM611 590v3h1v-3zM611 596v3h1v-3zM611 602v3h1v-3zM611 608v3h1v-3zM611 614v3h1v-3zM611 620v3h1v-3zM611 626v3h1v-3zM611 632v3h1v-3zM611 638v3h1v-3zM611 644v3h1v-3zM611 650v3h1v-3zM611 656v3h1v-3zM611 662v3h1v-3zM611 668v3h1v-3zM611 674v3h1v-3zM611 680v3h1v-3zM611 686v3h1v-3zM611 692v3h1v-3zM611 698v3h1v-3zM611 704v3h1v-3zM611 710v3h1v-3z" fill="#c0c0c0"/>
<path d="M643 542v3h1v-3zM643 548v3h1v-3zM643 554v3h1v-3zM643 560v3h1v-3zM643 566v3h1v-3zM643 572v3h1v-3zM643 578v3h1v-3zM643 584v3h1v-3zM643 590v3h1v-3zM643 596v3h1v-3zM643 602v3h1v-3zM643 608v3h1v-3zM643 614v3h1v-3zM643 620v3h1v-3zM643 626v3h1v-3zM643 632v3h1v-3zM643 638v3h1v-3zM643 644v3h1v-3zM643 650v3h1v-3zM643 656v3h1v-3zM643 662v3h1v-3zM643 668v3h1v-3zM643 674v3h1v-3zM643 680v3h1v-3zM643 686v3h1v-3zM643 692v3h1v-3zM643 698v3h1v-3zM643 704v3h1v-3zM643 710v3h1v-3z" fill="#c0c0c0"/>
<path d="M4 25h3v1h-3zM10 25h3v1h-3zM16 25h3v1h-3zM22 25h3v1h-3zM28 25h3v1h-3zM34 25h3v1h-3zM40 25h3v1h-3zM46 25h3v1h-3zM52 25h3v1h-3zM58 25h3v1h-3zM64 25h3v1h-3zM70 25h3v1h-3zM76 25h3v1h-3zM82 25h3v1h-3zM88 25h3v1h-3zM94 25h3v1h-3zM100 25h3v1h-3zM106 25h3v1h-3zM112 25h3v1h-3zM118 25h3v1h-3zM124 25h3v1h-3zM130 25h3v1h-3zM136 25h3v1h-3zM142 25h3v1h-3zM148 25h3v1h-3zM154 25h3v1h-3zM160 25h3v1h-3zM166 25h3v1h-3zM172 25h3v1h-3zM178 25h3v1h-3zM184 25h3v1h-3zM190 25h3v1h-3zM196 25h3v1h-3zM202 25h3v1h-3zM208 25h3v1h-3zM214 25h3v1h-3zM220 25h3v1h-3zM226 25h3v1h-3zM232 25h3v1h-3zM238 25h3v1h-3zM244 25h3v1h-3zM250 25h3v1h-3zM256 25h3v1h-3zM262 25h3v1h-3zM268 25h3v1h-3zM274 25h3v1h-3zM280 25h3v1h-3zM286 25h3v1h-3zM292 25h3v1h-3zM298 25h3v1h-3zM304 25h3v1h-3zM310 25h3v1h-3zM316 25h3v1h-3zM322 25h3v1h-3zM328 25h3v1h-3zM334 25h3v1h-3zM340 25h3v1h-3zM346 25h3v1h-3zM352 25h3v1h-3zM358 25h3v1h-3zM364 25h3v1h-3zM370 25h3v1h-3zM376 25h3v1h-3zM382 25h3v1h-3zM388 25h3v1h-3zM394 25h3v1h-3zM400 25h3v1h-3zM406 25h3v1h-3zM412 25h3v1h-3zM418 25h3v1h-3zM424 25h3v1h-3zM430 25h3v1h-3zM436 25h3v1h-3zM442 25h3v1h-3zM448 25h3v1h-3zM454 25h3v1h-3zM460 25h3v1h-3zM466 25h3v1h-3zM472 25h3v1h-3zM478 25h3v1h-3zM484 25h3v1h-3zM490 25h3v1h-3zM496 25h3v1h-3zM502 25h3v1h-3zM508 25h3v1h-3zM514 25h3v1h-3zM520 25h3v1h-3zM526 25h3v1h-3zM532 25h3v1h-3zM538 25h3v1h-3zM544 25h3v1h-3zM550 25h3v1h-3zM556 25h3v1h-3zM562 25h3v1h-3zM568 25h3v1h-3zM574 25h3v1h-3zM580 25h3v1h-3zM586 25h3v1h-3zM592 25h3v1h-3zM598 25h3v1h-3zM604 25h3v1h-3zM610 25h3v1h-3zM616 25h3v1h-3zM622 25h3v1h-3zM628 25h3v1h-3zM634 25h3v1h-3zM640 25h3v1h-3zM646 25h3v1h-3zM652 25h3v1h-3zM658 25h3v1h-3zM664 25h3v1h-3z" fill="#c0c0c0"/>
<path d="M4 58h3v1h-3zM10 58h3v1h-3zM16 58h3v1h-3zM22 58h3v1h-3zM28 58h3v1h-3zM34 58h3v1h-3zM40 58h3v1h-3zM46 58h3v1h-3zM52 58h3v1h-3zM58 58h3v1h-3zM64 58h3v1h-3zM70 58h3v1h-3zM76 58h3v1h-3zM82 58h3v1h-3zM88 58h3v1h-3zM94 58h3v1h-3zM100 58h3v1h-3zM106 58h3v1h-3zM112 58h3v1h-3zM118 58h3v1h-3zM124 58h3v1h-3zM130 58h3v1h-3zM136 58h3v1h-3zM142 58h3v1h-3zM148 58h3v1h-3zM154 58h3v1h-3zM160 58h3v1h-3zM166 58h3v1h-3zM172 58h3v1h-3zM178 58h3v1h-3zM184 58h3v1h-3zM190 58h3v1h-3zM196 58h3v1h-3zM202 58h3v1h-3zM208 58h3v1h-3zM214 58h3v1h-3zM220 58h3v1h-3zM226 58h3v1h-3zM232 58h3v1h-3zM238 58h3v1h-3zM244 58h3v1h-3zM250 58h3v1h-3zM256 58h3v1h-3zM262 58h3v1h-3zM268 58h3v1h-3zM274 58h3v1h-3zM280 58h3v1h-3zM286 58h3v1h-3zM292 58h3v1h-3zM298 58h3v1h-3zM304 58h3v1h-3zM310 58h3v1h-3zM316 58h3v1h-3zM322 58h3v1h-3zM328 58h3v1h-3zM334 58h3v1h-3zM340 58h3v1h-3zM346 58h3v1h-3zM352 58h3v1h-3zM358 58h3v1h-3zM364 58h3v1h-3zM370 58h3v1h-3zM376 58h3v1h-3zM382 58h3v1h-3zM388 58h3v1h-3zM394 58h3v1h-3zM400 58h3v1h-3zM406 58h3v1h-3zM412 58h3v1h-3zM418 58h3v1h-3zM424 58h3v1h-3zM430 58h3v1h-3zM436 58h3v1h-3zM442 58h3v1h-3zM448 58h3v1h-3zM454 58h3v1h-3zM460 58h3v1h-3zM466 58h3v1h-3zM472 58h3v1h-3zM478 58h3v1h-3zM484 58h3v1h-3zM490 58h3v1h-3zM496 58h3v1h-3zM502 58h3v1h-3zM508 58h3v1h-3zM514 58h3v1h-3zM520 58h3v1h-3zM526 58h3v1h-3zM532 58h3v1h-3zM538 58h3v1h-3zM544 58h3v1h-3zM550 58h3v1h-3zM556 58h3v1h-3zM562 58h3v1h-3zM568 58h3v1h-3zM574 58h3v1h-3zM580 58h3v1h-3zM586 58h3v1h-3zM592 58h3v1h-3zM598 58h3v1h-3zM604 58h3v1h-3zM610 58h3v1h-3zM616 58h3v1h-3zM622 58h3v1h-3zM628 58h3v1h-3zM634 58h3v1h-3zM640 58h3v1h-3zM646 58h3v1h-3zM652 58h3v1h-3zM658 58h3v1h-3zM664 58h3v1h-3z" fill="#c0c0c0"/>
<path d="M4 91h3v1h-3zM10 91h3v1h-3zM16 91h3v1h-3zM22 91h3v1h-3zM28 91h3v1h-3zM34 91h3v1h-3zM40 91h3v1h-3zM46 91h3v1h-3zM52 91h3v1h-3zM58 91h3v1h-3zM64 91h3v1h-3zM70 91h3v1h-3zM76 91h3v1h-3zM82 91h3v1h-3zM88 91h3v1h-3zM94 91h3v1h-3zM100 91h3v1h-3zM106 91h3v1h-3zM112 91h3v1h-3zM118 91h3v1h-3zM124 91h3v1h-3zM130 91h3v1h-3zM136 91h3v1h-3zM142 91h3v1h-3zM148 91h3v1h-3zM154 91h3v1h-3zM160 91h3v1h-3zM166 91h3v1h-3zM172 91h3v1h-3zM178 91h3v1h-3zM184 91h3v1h-3zM190 91h3v1h-3zM196 91h3v1h-3zM202 91h3v1h-3zM208 91h3v1h-3zM214 91h3v1h-3zM220 91h3v1h-3zM226 91h3v1h-3zM232 91h3v1h-3zM238 91h3v1h-3zM244 91h3v1h-3zM250 91h3v1h-3zM256 91h3v1h-3zM262 91h3v1h-3zM268 91h3v1h-3zM274 91h3v1h-3zM280 91h3v1h-3zM286 91h3v1h-3zM292 91h3v1h-3zM298 91h3v1h-3zM304 91h3v1h-3zM310 91h3v1h-3zM316 91h3v1h-3zM322 91h3v1h-3zM328 91h3v1h-3zM334 91h3v1h-3zM340 91h3v1h-3zM346 91h3v1h-3zM352 91h3v1h-3zM358 91h3v1h-3zM364 91h3v1h-3zM370 91h3v1h-3zM376 91h3v1h-3zM382 91h3v1h-3zM388 91h3v1h-3zM394 91h3v1h-3zM400 91h3v1h-3zM406 91h3v1h-3zM412 91h3v1h-3zM418 91h3v1h-3zM424 91h3v1h-3zM430 91h3v1h-3zM436 91h3v1h-3zM442 91h3v1h-3zM448 91h3v1h-3zM454 91h3v1h-3zM460 91h3v1h-3zM466 91h3v1h-3zM472 91h3v1h-3zM478 91h3v1h-3zM484 91h3v1h-3zM490 91h3v1h-3zM496 91h3v1h-3zM502 91h3v1h-3zM508 91h3v1h-3zM514 91h3v1h-3zM520 91h3v1h-3zM526 91h3v1h-3zM532 91h3v1h-3zM538 91h3v1h-3zM544 91h3v1h-3zM550 91h3v1h-3zM556 91h3v1h-3zM562 91h3v1h-3zM568 91h3v1h-3zM574 91h3v1h-3zM580 91h3v1h-3zM586 91h3v1h-3zM592 91h3v1h-3zM598 91h3v1h-3zM604 91h3v1h-3zM610 91h3v1h-3zM616 91h3v1h-3zM622 91h3v1h-3zM628 91h3v1h-3zM634 91h3v1h-3zM640 91h3v1h-3zM646 91h3v1h-3zM652 91h3v1h-3zM658 91h3v1h-3zM664 91h3v1h-3z" fill="#c0c0c0"/>
<path d="M4 124h3v1h-3zM10 124h3v1h-3zM16 124h3v1h-3zM22 124h3v1h-3zM28 124h3v1h-3zM34 124h3v1h-3zM40 124h3v1h-3zM46 124h3v1h-3zM52 124h3v1h-3zM58 124h3v1h-3zM64 124h3v1h-3zM70 124h3v1h-3zM76 124h3v1h-3zM82 124h3v1h-3zM88 124h3v1h-3zM94 124h3v1h-3zM100 124h3v1h-3zM106 124h3v1h-3zM112 124h3v1h-3zM118 124h3v1h-3zM124 124h3v1h-3zM130 124h3v1h-3zM136 124h3v1h-3zM142 124h3v1h-3zM148 124h3v1h-3zM154 124h3v1h-3zM160 124h3v1h-3zM166 124h3v1h-3zM172 124h3v1h-3zM178 124h3v1h-3zM184 124h3v1h-3zM190 124h3v1h-3zM196 124h3v1h-3zM202 124h3v1h-3zM208 124h3v1h-3zM214 124h3v1h-3zM220 124h3v1h-3zM226 124h3v1h-3zM232 124h3v1h-3zM238 124h3v1h-3zM244 124h3v1h-3zM250 124h3v1h-3zM256 124h3v1h-3zM262 124h3v1h-3zM268 124h3v1h-3zM274 124h3v1h-3zM280 124h3v1h-3zM286 124h3v1h-3zM292 124h3v1h-3zM298 124h3v1h-3zM304 124h3v1h-3zM310 124h3v1h-3zM316 124h3v1h-3zM322 124h3v1h-3zM328 124h3v1h-3zM334 124h3v1h-3zM340 124h3v1h-3zM346 124h3v1h-3zM352 124h3v1h-3zM358 124h3v1h-3zM364 124h3v1h-3zM370 124h3v1h-3zM376 124h3v1h-3zM382 124h3v1h-3zM388 124h3v1h-3zM394 124h3v1h-3zM400 124h3v1h-3zM406 124h3v1h-3zM412 124h3v1h-3zM418 124h3v1h-3zM424 124h3v1h-3zM430 124h3v1h-3zM436 124h3v1h-3zM442 124h3v1h-3zM448 124h3v1h-3zM454 124h3v1h-3zM460 124h3v1h-3zM466 124h3v1h-3zM472 124h3v1h-3zM478 124h3v1h-3zM484 124h3v1h-3zM490 124h3v1h-3zM496 124h3v1h-3zM502 124h3v1h-3zM508 124h3v1h-3zM514 124h3v1h-3zM520 124h3v1h-3zM526 124h3v1h-3zM532 124h3v1h-3zM538 124h3v1h-3zM544 124h3v1h-3zM550 124h3v1h-3zM556 124h3v1h-3zM562 124h3v1h-3zM568 124h3v1h-3zM574 124h3v1h-3zM580 124h3v1h-3zM586 124h3v1h-3zM592 124h3v1h-3zM598 124h3v1h-3zM604 124h3v1h-3zM610 124h3v1h-3zM616 124h3v1h-3zM622 124h3v1h-3zM628 124h3v1h-3zM634 124h3v1h-3zM640 124h3v1h-3zM646 124h3v1h-3zM652 124h3v1h-3zM658 124h3v1h-3zM664 124h3v1h-3z" fill="#c0c0c0"/>
<path d="M4 157h3v1h-3zM10 157h3v1h-3zM16 157h3v1h-3zM22 157h3v1h-3zM28 157h3v1h-3zM34 157h3v1h-3zM40 157h3v1h-3zM46 157h3v1h-3zM52 157h3v1h-3zM58 157h3v1h-3zM64 157h3v1h-3zM70 157h3v1h-3zM76 157h3v1h-3zM82 157h3v1h-3zM88 157h3v1h-3zM94 157h3v1h-3zM100 157h3v1h-3zM106 157h3v1h-3zM112 157h3v1h-3zM118 157h3v1h-3zM124 157h3v1h-3zM130 157h3v1h-3zM136 157h3v1h-3zM142 157h3v1h-3zM148 157h3v1h-3zM154 157h3v1h-3zM160 157h3v1h-3zM166 157h3v1h-3zM172 157h3v1h-3zM178 157h3v1h-3zM184 157h3v1h-3zM190 157h3v1h-3zM196 157h3v1h-3zM202 157h3v1h-3zM208 157h3v1h-3zM214 157h3v1h-3zM220 157h3v1h-3zM226 157h3v1h-3zM232 157h3v1h-3zM238 157h3v1h-3zM244 157h3v1h-3zM250 157h3v1h-3zM256 157h3v1h-3zM262 157h3v1h-3zM268 157h3v1h-3zM274 157h3v1h-3zM280 157h3v1h-3zM286 157h3v1h-3zM292 157h3v1h-3zM298 157h3v1h-3zM304 157h3v1h-3zM310 157h3v1h-3zM316 157h3v1h-3zM322 157h3v1h-3zM328 157h3v1h-3zM334 157h3v1h-3zM340 157h3v1h-3zM346 157h3v1h-3zM352 157h3v1h-3zM358 157h3v1h-3zM364 157h3v1h-3zM370 157h3v1h-3zM376 157h3v1h-3zM382 157h3v1h-3zM388 157h3v1h-3zM394 157h3v1h-3zM400 157h3v1h-3zM406 157h3v1h-3zM412 157h3v1h-3zM418 157h3v1h-3zM424 157h3v1h-3zM430 157h3v1h-3zM436 157h3v1h-3zM442 157h3v1h-3zM448 157h3v1h-3zM454 157h3v1h-3zM460 157h3v1h-3zM466 157h3v1h-3zM472 157h3v1h-3zM478 157h3v1h-3zM484 157h3v1h-3zM490 157h3v1h-3zM496 157h3v1h-3zM502 157h3v1h-3zM508 157h3v1h-3zM514 157h3v1h-3zM520 157h3v1h-3zM526 157h3v1h-3zM532 157h3v1h-3zM538 157h3v1h-3zM544 157h3v1h-3zM550 157h3v1h-3zM556 157h3v1h-3zM562 157h3v1h-3zM568 157h3v1h-3zM574 157h3v1h-3zM580 157h3v1h-3zM586 157h3v1h-3zM592 157h3v1h-3zM598 157h3v1h-3zM604 157h3v1h-3zM610 157h3v1h-3zM616 157h3v1h-3zM622 157h3v1h-3zM628 157h3v1h-3zM634 157h3v1h-3zM640 157h3v1h-3zM646 157h3v1h-3zM652 157h3v1h-3zM658 157h3v1h-3zM664 157h3v1h-3z" fill="#c0c0c0"/>
<path d="M4 190h3v1h-3zM10 190h3v1h-3zM16 190h3v1h-3zM22 190h3v1h-3zM28 190h3v1h-3zM34 190h3v1h-3zM40 190h3v1h-3zM46 190h3v1h-3zM52 190h3v1h-3zM58 190h3v1h-3zM64 190h3v1h-3zM70 190h3v1h-3zM76 190h3v1h-3zM82 190h3v1h-3zM88 190h3v1h-3zM94 190h3v1h-3zM100 190h3v1h-3zM106 190h3v1h-3zM112 190h3v1h-3zM118 190h3v1h-3zM124 190h3v1h-3zM130 190h3v1h-3zM136 190h3v1h-3zM142 190h3v1h-3zM148 190h3v1h-3zM154 190h3v1h-3zM160 190h3v1h-3zM166 190h3v1h-3zM172 190h3v1h-3zM178 190h3v1h-3zM184 190h3v1h-3zM190 190h3v1h-3zM196 190h3v1h-3zM202 190h3v1h-3zM208 190h3v1h-3zM214 190h3v1h-3zM220 190h3v1h-3zM226 190h3v1h-3zM232 190h3v1h-3zM238 190h3v1h-3zM244 190h3v1h-3zM250 190h3v1h-3zM256 190h3v1h-3zM262 190h3v1h-3zM268 190h3v1h-3zM274 190h3v1h-3zM280 190h3v1h-3zM286 190h3v1h-3zM292 190h3v1h-3zM298 190h3v1h-3zM304 190h3v1h-3zM310 190h3v1h-3zM316 190h3v1h-3zM322 190h3v1h-3zM328 190h3v1h-3zM334 190h3v1h-3zM340 190h3v1h-3zM346 190h3v1h-3zM352 190h3v1h-3zM358 190h3v1h-3zM364 190h3v1h-3zM370 190h3v1h-3zM376 190h3v1h-3zM382 190h3v1h-3zM388 190h3v1h-3zM394 190h3v1h-3zM400 190h3v1h-3zM406 190h3v1h-3zM412 190h3v1h-3zM418 190h3v1h-3zM424 190h3v1h-3zM430 190h3v1h-3zM436 190h3v1h-3zM442 190h3v1h-3zM448 190h3v1h-3zM454 190h3v1h-3zM460 190h3v1h-3zM466 190h3v1h-3zM472 190h3v1h-3zM478 190h3v1h-3zM484 190h3v1h-3zM490 190h3v1h-3zM496 190h3v1h-3zM502 190h3v1h-3zM508 190h3v1h-3zM514 190h3v1h-3zM520 190h3v1h-3zM526 190h3v1h-3zM532 190h3v1h-3zM538 190h3v1h-3zM544 190h3v1h-3zM550 190h3v1h-3zM556 190h3v1h-3zM562 190h3v1h-3zM568 190h3v1h-3zM574 190h3v1h-3zM580 190h3v1h-3zM586 190h3v1h-3zM592 190h3v1h-3zM598 190h3v1h-3zM604 190h3v1h-3zM610 190h3v1h-3zM616 190h3v1h-3zM622 190h3v1h-3zM628 190h3v1h-3zM634 190h3v1h-3zM640 190h3v1h-3zM646 190h3v1h-3zM652 190h3v1h-3zM658 190h3v1h-3zM664 190h3v1h-3z" fill="#c0c0c0"/>
<path d="M4 223h3v1h-3zM10 223h3v1h-3zM16 223h3v1h-3zM22 223h3v1h-3zM28 223h3v1h-3zM34 223h3v1h-3zM40 223h3v1h-3zM46 223h3v1h-3zM52 223h3v1h-3zM58 223h3v1h-3zM64 223h3v1h-3zM70 223h3v1h-3zM76 223h3v1h-3zM82 223h3v1h-3zM88 223h3v1h-3zM94 223h3v1h-3zM100 223h3v1h-3zM106 223h3v1h-3zM112 223h3v1h-3zM118 223h3v1h-3zM124 223h3v1h-3zM130 223h3v1h-3zM136 223h3v1h-3zM142 223h3v1h-3zM148 223h3v1h-3zM154 223h3v1h-3zM160 223h3v1h-3zM166 223h3v1h-3zM172 223h3v1h-3zM178 223h3v1h-3zM184 223h3v1h-3zM190 223h3v1h-3zM196 223h3v1h-3zM202 223h3v1h-3zM208 223h3v1h-3zM214 223h3v1h-3zM220 223h3v1h-3zM226 223h3v1h-3zM232 223h3v1h-3zM238 223h3v1h-3zM244 223h3v1h-3zM250 223h3v1h-3zM256 223h3v1h-3zM262 223h3v1h-3zM268 223h3v1h-3zM274 223h3v1h-3zM280 223h3v1h-3zM286 223h3v1h-3zM292 223h3v1h-3zM298 223h3v1h-3zM304 223h3v1h-3zM310 223h3v1h-3zM316 223h3v1h-3zM322 223h3v1h-3zM328 223h3v1h-3zM334 223h3v1h-3zM340 223h3v1h-3zM346 223h3v1h-3zM352 223h3v1h-3zM358 223h3v1h-3zM364 223h3v1h-3zM370 223h3v1h-3zM376 223h3v1h-3zM382 223h3v1h-3zM388 223h3v1h-3zM394 223h3v1h-3zM400 223h3v1h-3zM406 223h3v1h-3zM412 223h3v1h-3zM418 223h3v1h-3zM424 223h3v1h-3zM430 223h3v1h-3zM436 223h3v1h-3zM442 223h3v1h-3zM448 223h3v1h-3zM454 223h3v1h-3zM460 223h3v1h-3zM466 223h3v1h-3zM472 223h3v1h-3zM478 223h3v1h-3zM484 223h3v1h-3zM490 223h3v1h-3zM496 223h3v1h-3zM502 223h3v1h-3zM508 223h3v1h-3zM514 223h3v1h-3zM520 223h3v1h-3zM526 223h3v1h-3zM532 223h3v1h-3zM538 223h3v1h-3zM544 223h3v1h-3zM550 223h3v1h-3zM556 223h3v1h-3zM562 223h3v1h-3zM568 223h3v1h-3zM574 223h3v1h-3zM580 223h3v1h-3zM586 223h3v1h-3zM592 223h3v1h-3zM598 223h3v1h-3zM604 223h3v1h-3zM610 223h3v1h-3zM616 223h3v1h-3zM622 223h3v1h-3zM628 223h3v1h-3zM634 223h3v1h-3zM640 223h3v1h-3zM646 223h3v1h-3zM652 223h3v1h-3zM658 223h3v1h-3zM664 223h3v1h-3z" fill="#c0c0c0"/>
<path d="M4 256h3v1h-3zM10 256h3v1h-3zM16 256h3v1h-3zM22 256h3v1h-3zM28 256h3v1h-3zM34 256h3v1h-3zM40 256h3v1h-3zM46 256h3v1h-3zM52 256h3v1h-3zM58 256h3v1h-3zM64 256h3v1h-3zM70 256h3v1h-3zM76 256h3v1h-3zM82 256h3v1h-3zM88 256h3v1h-3zM94 256h3v1h-3zM100 256h3v1h-3zM106 256h3v1h-3zM112 256h3v1h-3zM118 256h3v1h-3zM124 256h3v1h-3zM130 256h3v1h-3zM136 256h3v1h-3zM142 256h3v1h-3zM148 256h3v1h-3zM154 256h3v1h-3zM160 256h3v1h-3zM166 256h3v1h-3zM172 256h3v1h-3zM178 256h3v1h-3zM184 256h3v1h-3zM190 256h3v1h-3zM196 256h3v1h-3zM202 256h3v1h-3zM208 256h3v1h-3zM214 256h3v1h-3zM220 256h3v1h-3zM226 256h3v1h-3zM232 256h3v1h-3zM238 256h3v1h-3zM244 256h3v1h-3zM250 256h3v1h-3zM256 256h3v1h-3zM262 256h3v1h-3zM268 256h3v1h-3zM274 256h3v1h-3zM280 256h3v1h-3zM286 256h3v1h-3zM292 256h3v1h-3zM298 256h3v1h-3zM304 256h3v1h-3zM310 256h3v1h-3zM316 256h3v1h-3zM322 256h3v1h-3zM328 256h3v1h-3zM334 256h3v1h-3zM340 256h3v1h-3zM346 256h3v1h-3zM352 256h3v1h-3zM358 256h3v1h-3zM364 256h3v1h-3zM370 256h3v1h-3zM376 256h3v1h-3zM382 256h3v1h-3zM388 256h3v1h-3zM394 256h3v1h-3zM400 256h3v1h-3zM406 256h3v1h-3zM412 256h3v1h-3zM418 256h3v1h-3zM424 256h3v1h-3zM430 256h3v1h-3zM436 256h3v1h-3zM442 256h3v1h-3zM448 256h3v1h-3zM454 256h3v1h-3zM460 256h3v1h-3zM466 256h3v1h-3zM472 256h3v1h-3zM478 256h3v1h-3zM484 256h3v1h-3zM490 256h3v1h-3zM496 256h3v1h-3zM502 256h3v1h-3zM508 256h3v1h-3zM514 256h3v1h-3zM520 256h3v1h-3zM526 256h3v1h-3zM532 256h3v1h-3zM538 256h3v1h-3zM544 256h3v1h-3zM550 256h3v1h-3zM556 256h3v1h-3zM562 256h3v1h-3zM568 256h3v1h-3zM574 256h3v1h-3zM580 256h3v1h-3zM586 256h3v1h-3zM592 256h3v1h-3zM598 256h3v1h-3zM604 256h3v1h-3zM610 256h3v1h-3zM616 256h3v1h-3zM622 256h3v1h-3zM628 256h3v1h-3zM634 256h3v1h-3zM640 256h3v1h-3zM646 256h3v1h-3zM652 256h3v1h-3zM658 256h3v1h-3zM664 256h3v1h-3z" fill="#c0c0c0"/>
<path d="M4 289h3v1h-3zM10 289h3v1h-3zM16 289h3v1h-3zM22 289h3v1h-3zM28 289h3v1h-3zM34 289h3v1h-3zM40 289h3v1h-3zM46 289h3v1h-3zM52 289h3v1h-3zM58 289h3v1h-3zM64 289h3v1h-3zM70 289h3v1h-3zM76 289h3v1h-3zM82 289h3v1h-3zM88 289h3v1h-3zM94 289h3v1h-3zM100 289h3v1h-3zM106 289h3v1h-3zM112 289h3v1h-3zM118 289h3v1h-3zM124 289h3v1h-3zM130 289h3v1h-3zM136 289h3v1h-3zM142 289h3v1h-3zM148 289h3v1h-3zM154 289h3v1h-3zM160 289h3v1h-3zM166 289h3v1h-3zM172 289h3v1h-3zM178 289h3v1h-3zM184 289h3v1h-3zM190 289h3v1h-3zM196 289h3v1h-3zM202 289h3v1h-3zM208 289h3v1h-3zM214 289h3v1h-3zM220 289h3v1h-3zM226 289h3v1h-3zM232 289h3v1h-3zM238 289h3v1h-3zM244 289h3v1h-3zM250 289h3v1h-3zM256 289h3v1h-3zM262 289h3v1h-3zM268 289h3v1h-3zM274 289h3v1h-3zM280 289h3v1h-3zM286 289h3v1h-3zM292 289h3v1h-3zM298 289h3v1h-3zM304 289h3v1h-3zM310 289h3v1h-3zM316 289h3v1h-3zM322 289h3v1h-3zM328 289h3v1h-3zM334 289h3v1h-3zM340 289h3v1h-3zM346 289h3v1h-3zM352 289h3v1h-3zM358 289h3v1h-3zM364 289h3v1h-3zM370 289h3v1h-3zM376 289h3v1h-3zM382 289h3v1h-3zM388 289h3v1h-3zM394 289h3v1h-3zM400 289h3v1h-3zM406 289h3v1h-3zM412 289h3v1h-3zM418 289h3v1h-3zM424 289h3v1h-3zM430 289h3v1h-3zM436 289h3v1h-3zM442 289h3v1h-3zM448 289h3v1h-3zM454 289h3v1h-3zM460 289h3v1h-3zM466 289h3v1h-3zM472 289h3v1h-3zM478 289h3v1h-3zM484 289h3v1h-3zM490 289h3v1h-3zM496 289h3v1h-3zM502 289h3v1h-3zM508 289h3v1h-3zM514 289h3v1h-3zM520 289h3v1h-3zM526 289h3v1h-3zM532 289h3v1h-3zM538 289h3v1h-3zM544 289h3v1h-3zM550 289h3v1h-3zM556 289h3v1h-3zM562 289h3v1h-3zM568 289h3v1h-3zM574 289h3v1h-3zM580 289h3v1h-3zM586 289h3v1h-3zM592 289h3v1h-3zM598 289h3v1h-3zM604 289h3v1h-3zM610 289h3v1h-3zM616 289h3v1h-3zM622 289h3v1h-3zM628 289h3v1h-3zM634 289h3v1h-3zM640 289h3v1h-3zM646 289h3v1h-3zM652 289h3v1h-3zM658 289h3v1h-3zM664 289h3v1h-3z" fill="#c0c0c0"/>
<path d="M4 322h3v1h-3zM10 322h3v1h-3zM16 322h3v1h-3zM22 322h3v1h-3zM28 322h3v1h-3zM34 322h3v1h-3zM40 322h3v1h-3zM46 322h3v1h-3zM52 322h3v1h-3zM58 322h3v1h-3zM64 322h3v1h-3zM70 322h3v1h-3zM76 322h3v1h-3zM82 322h3v1h-3zM88 322h3v1h-3zM94 322h3v1h-3zM100 322h3v1h-3zM106 322h3v1h-3zM112 322h3v1h-3zM118 322h3v1h-3zM124 322h3v1h-3zM130 322h3v1h-3zM136 322h3v1h-3zM142 322h3v1h-3zM148 322h3v1h-3zM154 322h3v1h-3zM160 322h3v1h-3zM166 322h3v1h-3zM172 322h3v1h-3zM178 322h3v1h-3zM184 322h3v1h-3zM190 322h3v1h-3zM196 322h3v1h-3zM202 322h3v1h-3zM208 322h3v1h-3zM214 322h3v1h-3zM220 322h3v1h-3zM226 322h3v1h-3zM232 322h3v1h-3zM238 322h3v1h-3zM244 322h3v1h-3zM250 322h3v1h-3zM256 322h3v1h-3zM262 322h3v1h-3zM268 322h3v1h-3zM274 322h3v1h-3zM280 322h3v1h-3zM286 322h3v1h-3zM292 322h3v1h-3zM298 322h3v1h-3zM304 322h3v1h-3zM310 322h3v1h-3zM316 322h3v1h-3zM322 322h3v1h-3zM328 322h3v1h-3zM334 322h3v1h-3zM340 322h3v1h-3zM346 322h3v1h-3zM352 322h3v1h-3zM358 322h3v1h-3zM364 322h3v1h-3zM370 322h3v1h-3zM376 322h3v1h-3zM382 322h3v1h-3zM388 322h3v1h-3zM394 322h3v1h-3zM400 322h3v1h-3zM406 322h3v1h-3zM412 322h3v1h-3zM418 322h3v1h-3zM424 322h3v1h-3zM430 322h3v1h-3zM436 322h3v1h-3zM442 322h3v1h-3zM448 322h3v1h-3zM454 322h3v1h-3zM460 322h3v1h-3zM466 322h3v1h-3zM472 322h3v1h-3zM478 322h3v1h-3zM484 322h3v1h-3zM490 322h3v1h-3zM496 322h3v1h-3zM502 322h3v1h-3zM508 322h3v1h-3zM514 322h3v1h-3zM520 322h3v1h-3zM526 322h3v1h-3zM532 322h3v1h-3zM538 322h3v1h-3zM544 322h3v1h-3zM550 322h3v1h-3zM556 322h3v1h-3zM562 322h3v1h-3zM568 322h3v1h-3zM574 322h3v1h-3zM580 322h3v1h-3zM586 322h3v1h-3zM592 322h3v1h-3zM598 322h3v1h-3zM604 322h3v1h-3zM610 322h3v1h-3zM616 322h3v1h-3zM622 322h3v1h-3zM628 322h3v1h-3zM634 322h3v1h-3zM640 322h3v1h-3zM646 322h3v1h-3zM652 322h3v1h-3zM658 322h3v1h-3zM664 322h3v1h-3z" fill="#c0c0c0"/>
<path d="M4 355h3v1h-3zM10 355h3v1h-3zM16 355h3v1h-3zM22 355h3v1h-3zM28 355h3v1h-3zM34 355h3v1h-3zM40 355h3v1h-3zM46 355h3v1h-3zM52 355h3v1h-3zM58 355h3v1h-3zM64 355h3v1h-3zM70 355h3v1h-3zM76 355h3v1h-3zM82 355h3v1h-3zM88 355h3v1h-3zM94 355h3v1h-3zM100 355h3v1h-3zM106 355h3v1h-3zM112 355h3v1h-3zM118 355h3v1h-3zM124 355h3v1h-3zM130 355h3v1h-3zM136 355h3v1h-3zM142 355h3v1h-3zM148 355h3v1h-3zM154 355h3v1h-3zM160 355h3v1h-3zM166 355h3v1h-3zM172 355h3v1h-3zM178 355h3v1h-3zM184 355h3v1h-3zM190 355h3v1h-3zM196 355h3v1h-3zM202 355h3v1h-3zM208 355h3v1h-3zM214 355h3v1h-3zM220 355h3v1h-3zM226 355h3v1h-3zM232 355h3v1h-3zM238 355h3v1h-3zM244 355h3v1h-3zM250 355h3v1h-3zM256 355h3v1h-3zM262 355h3v1h-3zM268 355h3v1h-3zM274 355h3v1h-3zM280 355h3v1h-3zM286 355h3v1h-3zM292 355h3v1h-3zM298 355h3v1h-3zM304 355h3v1h-3zM310 355h3v1h-3zM316 355h3v1h-3zM322 355h3v1h-3zM328 355h3v1h-3zM334 355h3v1h-3zM340 355h3v1h-3zM346 355h3v1h-3zM352 355h3v1h-3zM358 355h3v1h-3zM364 355h3v1h-3zM370 355h3v1h-3zM376 355h3v1h-3zM382 355h3v1h-3zM388 355h3v1h-3zM394 355h3v1h-3zM400 355h3v1h-3zM406 355h3v1h-3zM412 355h3v1h-3zM418 355h3v1h-3zM424 355h3v1h-3zM430 355h3v1h-3zM436 355h3v1h-3zM442 355h3v1h-3zM448 355h3v1h-3zM454 355h3v1h-3zM460 355h3v1h-3zM466 355h3v1h-3zM472 355h3v1h-3zM478 355h3v1h-3zM484 355h3v1h-3zM490 355h3v1h-3zM496 355h3v1h-3zM502 355h3v1h-3zM508 355h3v1h-3zM514 355h3v1h-3zM520 355h3v1h-3zM526 355h3v1h-3zM532 355h3v1h-3zM538 355h3v1h-3zM544 355h3v1h-3zM550 355h3v1h-3zM556 355h3v1h-3zM562 355h3v1h-3zM568 355h3v1h-3zM574 355h3v1h-3zM580 355h3v1h-3zM586 355h3v1h-3zM592 355h3v1h-3zM598 355h3v1h-3zM604 355h3v1h-3zM610 355h3v1h-3zM616 355h3v1h-3zM622 355h3v1h-3zM628 355h3v1h-3zM634 355h3v1h-3zM640 355h3v1h-3zM646 355h3v1h-3zM652 355h3v1h-3zM658 355h3v1h-3zM664 355h3v1h-3z" fill="#c0c0c0"/>
<path d="M4 485h3v1h-3zM10 485h3v1h-3zM16 485h3v1h-3zM22 485h3v1h-3zM28 485h3v1h-3zM34 485h3v1h-3zM40 485h3v1h-3zM46 485h3v1h-3zM52 485h3v1h-3zM58 485h3v1h-3zM64 485h3v1h-3zM70 485h3v1h-3zM76 485h3v1h-3zM82 485h3v1h-3zM88 485h3v1h-3zM94 485h3v1h-3zM100 485h3v1h-3zM106 485h3v1h-3zM112 485h3v1h-3zM118 485h3v1h-3zM124 485h3v1h-3zM130 485h3v1h-3zM136 485h3v1h-3zM142 485h3v1h-3zM148 485h3v1h-3zM154 485h3v1h-3zM160 485h3v1h-3zM166 485h3v1h-3zM172 485h3v1h-3zM178 485h3v1h-3zM184 485h3v1h-3zM190 485h3v1h-3zM196 485h3v1h-3zM202 485h3v1h-3zM208 485h3v1h-3zM214 485h3v1h-3zM220 485h3v1h-3zM226 485h3v1h-3zM232 485h3v1h-3zM238 485h3v1h-3zM244 485h3v1h-3zM250 485h3v1h-3zM256 485h3v1h-3zM262 485h3v1h-3zM268 485h3v1h-3zM274 485h3v1h-3zM280 485h3v1h-3zM286 485h3v1h-3zM292 485h3v1h-3zM298 485h3v1h-3zM304 485h3v1h-3zM310 485h3v1h-3zM316 485h3v1h-3zM322 485h3v1h-3zM328 485h3v1h-3zM334 485h3v1h-3zM340 485h3v1h-3zM346 485h3v1h-3zM352 485h3v1h-3zM358 485h3v1h-3zM364 485h3v1h-3zM370 485h3v1h-3zM376 485h3v1h-3zM382 485h3v1h-3zM388 485h3v1h-3zM394 485h3v1h-3zM400 485h3v1h-3zM406 485h3v1h-3zM412 485h3v1h-3zM418 485h3v1h-3zM424 485h3v1h-3zM430 485h3v1h-3zM436 485h3v1h-3zM442 485h3v1h-3zM448 485h3v1h-3zM454 485h3v1h-3zM460 485h3v1h-3zM466 485h3v1h-3zM472 485h3v1h-3zM478 485h3v1h-3zM484 485h3v1h-3zM490 485h3v1h-3zM496 485h3v1h-3zM502 485h3v1h-3zM508 485h3v1h-3zM514 485h3v1h-3zM520 485h3v1h-3zM526 485h3v1h-3zM532 485h3v1h-3zM538 485h3v1h-3zM544 485h3v1h-3zM550 485h3v1h-3zM556 485h3v1h-3zM562 485h3v1h-3zM568 485h3v1h-3zM574 485h3v1h-3zM580 485h3v1h-3zM586 485h3v1h-3zM592 485h3v1h-3zM598 485h3v1h-3zM604 485h3v1h-3zM610 485h3v1h-3zM616 485h3v1h-3zM622 485h3v1h-3zM628 485h3v1h-3zM634 485h3v1h-3zM640 485h3v1h-3zM646 485h3v1h-3zM652 485h3v1h-3zM658 485h3v1h-3zM664 485h3v1h-3z" fill="#c0c0c0"/>
<path d="M4 575h3v1h-3zM10 575h3v1h-3zM16 575h3v1h-3zM22 575h3v1h-3zM28 575h3v1h-3zM34 575h3v1h-3zM40 575h3v1h-3zM46 575h3v1h-3zM52 575h3v1h-3zM58 575h3v1h-3zM64 575h3v1h-3zM70 575h3v1h-3zM76 575h3v1h-3zM82 575h3v1h-3zM88 575h3v1h-3zM94 575h3v1h-3zM100 575h3v1h-3zM106 575h3v1h-3zM112 575h3v1h-3zM118 575h3v1h-3zM124 575h3v1h-3zM130 575h3v1h-3zM136 575h3v1h-3zM142 575h3v1h-3zM148 575h3v1h-3zM154 575h3v1h-3zM160 575h3v1h-3zM166 575h3v1h-3zM172 575h3v1h-3zM178 575h3v1h-3zM184 575h3v1h-3zM190 575h3v1h-3zM196 575h3v1h-3zM202 575h3v1h-3zM208 575h3v1h-3zM214 575h3v1h-3zM220 575h3v1h-3zM226 575h3v1h-3zM232 575h3v1h-3zM238 575h3v1h-3zM244 575h3v1h-3zM250 575h3v1h-3zM256 575h3v1h-3zM262 575h3v1h-3zM268 575h3v1h-3zM274 575h3v1h-3zM280 575h3v1h-3zM286 575h3v1h-3zM292 575h3v1h-3zM298 575h3v1h-3zM304 575h3v1h-3zM310 575h3v1h-3zM316 575h3v1h-3zM322 575h3v1h-3zM328 575h3v1h-3zM334 575h3v1h-3zM340 575h3v1h-3zM346 575h3v1h-3zM352 575h3v1h-3zM358 575h3v1h-3zM364 575h3v1h-3zM370 575h3v1h-3zM376 575h3v1h-3zM382 575h3v1h-3zM388 575h3v1h-3zM394 575h3v1h-3zM400 575h3v1h-3zM406 575h3v1h-3zM412 575h3v1h-3zM418 575h3v1h-3zM424 575h3v1h-3zM430 575h3v1h-3zM436 575h3v1h-3zM442 575h3v1h-3zM448 575h3v1h-3zM454 575h3v1h-3zM460 575h3v1h-3zM466 575h3v1h-3zM472 575h3v1h-3zM478 575h3v1h-3zM484 575h3v1h-3zM490 575h3v1h-3zM496 575h3v1h-3zM502 575h3v1h-3zM508 575h3v1h-3zM514 575h3v1h-3zM520 575h3v1h-3zM526 575h3v1h-3zM532 575h3v1h-3zM538 575h3v1h-3zM544 575h3v1h-3zM550 575h3v1h-3zM556 575h3v1h-3zM562 575h3v1h-3zM568 575h3v1h-3zM574 575h3v1h-3zM580 575h3v1h-3zM586 575h3v1h-3zM592 575h3v1h-3zM598 575h3v1h-3zM604 575h3v1h-3zM610 575h3v1h-3zM616 575h3v1h-3zM622 575h3v1h-3zM628 575h3v1h-3zM634 575h3v1h-3zM640 575h3v1h-3zM646 575h3v1h-3zM652 575h3v1h-3zM658 575h3v1h-3zM664 575h3v1h-3z" fill="#c0c0c0"/>
<path d="M4 680h3v1h-3zM10 680h3v1h-3zM16 680h3v1h-3zM22 680h3v1h-3zM28 680h3v1h-3zM34 680h3v1h-3zM40 680h3v1h-3zM46 680h3v1h-3zM52 680h3v1h-3zM58 680h3v1h-3zM64 680h3v1h-3zM70 680h3v1h-3zM76 680h3v1h-3zM82 680h3v1h-3zM88 680h3v1h-3zM94 680h3v1h-3zM100 680h3v1h-3zM106 680h3v1h-3zM112 680h3v1h-3zM118 680h3v1h-3zM124 680h3v1h-3zM130 680h3v1h-3zM136 680h3v1h-3zM142 680h3v1h-3zM148 680h3v1h-3zM154 680h3v1h-3zM160 680h3v1h-3zM166 680h3v1h-3zM172 680h3v1h-3zM178 680h3v1h-3zM184 680h3v1h-3zM190 680h3v1h-3zM196 680h3v1h-3zM202 680h3v1h-3zM208 680h3v1h-3zM214 680h3v1h-3zM220 680h3v1h-3zM226 680h3v1h-3zM232 680h3v1h-3zM238 680h3v1h-3zM244 680h3v1h-3zM250 680h3v1h-3zM256 680h3v1h-3zM262 680h3v1h-3zM268 680h3v1h-3zM274 680h3v1h-3zM280 680h3v1h-3zM286 680h3v1h-3zM292 680h3v1h-3zM298 680h3v1h-3zM304 680h3v1h-3zM310 680h3v1h-3zM316 680h3v1h-3zM322 680h3v1h-3zM328 680h3v1h-3zM334 680h3v1h-3zM340 680h3v1h-3zM346 680h3v1h-3zM352 680h3v1h-3zM358 680h3v1h-3zM364 680h3v1h-3zM370 680h3v1h-3zM376 680h3v1h-3zM382 680h3v1h-3zM388 680h3v1h-3zM394 680h3v1h-3zM400 680h3v1h-3zM406 680h3v1h-3zM412 680h3v1h-3zM418 680h3v1h-3zM424 680h3v1h-3zM430 680h3v1h-3zM436 680h3v1h-3zM442 680h3v1h-3zM448 680h3v1h-3zM454 680h3v1h-3zM460 680h3v1h-3zM466 680h3v1h-3zM472 680h3v1h-3zM478 680h3v1h-3zM484 680h3v1h-3zM490 680h3v1h-3zM496 680h3v1h-3zM502 680h3v1h-3zM508 680h3v1h-3zM514 680h3v1h-3zM520 680h3v1h-3zM526 680h3v1h-3zM532 680h3v1h-3zM538 680h3v1h-3zM544 680h3v1h-3zM550 680h3v1h-3zM556 680h3v1h-3zM562 680h3v1h-3zM568 680h3v1h-3zM574 680h3v1h-3zM580 680h3v1h-3zM586 680h3v1h-3zM592 680h3v1h-3zM598 680h3v1h-3zM604 680h3v1h-3zM610 680h3v1h-3zM616 680h3v1h-3zM622 680h3v1h-3zM628 680h3v1h-3zM634 680h3v1h-3zM640 680h3v1h-3zM646 680h3v1h-3zM652 680h3v1h-3zM658 680h3v1h-3zM664 680h3v1h-3z" fill="#c0c0c0"/>
<path d="M4 714h3v1h-3zM10 714h3v1h-3zM16 714h3v1h-3zM22 714h3v1h-3zM28 714h3v1h-3zM34 714h3v1h-3zM40 714h3v1h-3zM46 714h3v1h-3zM52 714h3v1h-3zM58 714h3v1h-3zM64 714h3v1h-3zM70 714h3v1h-3zM76 714h3v1h-3zM82 714h3v1h-3zM88 714h3v1h-3zM94 714h3v1h-3zM100 714h3v1h-3zM106 714h3v1h-3zM112 714h3v1h-3zM118 714h3v1h-3zM124 714h3v1h-3zM130 714h3v1h-3zM136 714h3v1h-3zM142 714h3v1h-3zM148 714h3v1h-3zM154 714h3v1h-3zM160 714h3v1h-3zM166 714h3v1h-3zM172 714h3v1h-3zM178 714h3v1h-3zM184 714h3v1h-3zM190 714h3v1h-3zM196 714h3v1h-3zM202 714h3v1h-3zM208 714h3v1h-3zM214 714h3v1h-3zM220 714h3v1h-3zM226 714h3v1h-3zM232 714h3v1h-3zM238 714h3v1h-3zM244 714h3v1h-3zM250 714h3v1h-3zM256 714h3v1h-3zM262 714h3v1h-3zM268 714h3v1h-3zM274 714h3v1h-3zM280 714h3v1h-3zM286 714h3v1h-3zM292 714h3v1h-3zM298 714h3v1h-3zM304 714h3v1h-3zM310 714h3v1h-3zM316 714h3v1h-3zM322 714h3v1h-3zM328 714h3v1h-3zM334 714h3v1h-3zM340 714h3v1h-3zM346 714h3v1h-3zM352 714h3v1h-3zM358 714h3v1h-3zM364 714h3v1h-3zM370 714h3v1h-3zM376 714h3v1h-3zM382 714h3v1h-3zM388 714h3v1h-3zM394 714h3v1h-3zM400 714h3v1h-3zM406 714h3v1h-3zM412 714h3v1h-3zM418 714h3v1h-3zM424 714h3v1h-3zM430 714h3v1h-3zM436 714h3v1h-3zM442 714h3v1h-3zM448 714h3v1h-3zM454 714h3v1h-3zM460 714h3v1h-3zM466 714h3v1h-3zM472 714h3v1h-3zM478 714h3v1h-3zM484 714h3v1h-3zM490 714h3v1h-3zM496 714h3v1h-3zM502 714h3v1h-3zM508 714h3v1h-3zM514 714h3v1h-3zM520 714h3v1h-3zM526 714h3v1h-3zM532 714h3v1h-3zM538 714h3v1h-3zM544 714h3v1h-3zM550 714h3v1h-3zM556 714h3v1h-3zM562 714h3v1h-3zM568 714h3v1h-3zM574 714h3v1h-3zM580 714h3v1h-3zM586 714h3v1h-3zM592 714h3v1h-3zM598 714h3v1h-3zM604 714h3v1h-3zM610 714h3v1h-3zM616 714h3v1h-3zM622 714h3v1h-3zM628 714h3v1h-3zM634 714h3v1h-3zM640 714h3v1h-3zM646 714h3v1h-3zM652 714h3v1h-3zM658 714h3v1h-3zM664 714h3v1h-3z" fill="#c0c0c0"/>
<g clip-path="url(#c1)">
<rect x="3" y="123" width="665" height="1" fill="#c0c0c0"/>
<polyline points="56.0,362.0 73.5,358.0 84.4,356.2 101.0,350.7 110.0,348.9 120.0,346.3 133.6,343.4 155.3,337.9 163.2,335.3 178.9,331.4 194.7,326.6 220.3,318.2 231.1,314.4 250.0,308.7 256.4,305.7 276.8,299.2 292.5,294.5 316.0,288.7 341.1,280.6 355.2,277.1 375.6,269.6 392.0,264.8 415.3,260.3 439.0,255.2 457.5,249.3 477.8,242.6 494.8,238.7 501.8,237.7 510.0,235.2 527.0,232.3 533.0,230.6 549.0,226.4 562.5,222.2 587.2,216.3" fill="none" stroke="#0000ff" stroke-width="1" />
<polyline points="3.0,323.2 22.0,318.5 30.0,315.0 44.0,309.2 67.5,304.0 92.8,299.0 110.0,292.8 115.9,291.4 120.0,289.6 129.7,285.7 149.4,277.4 169.1,269.9 188.8,263.6 204.5,258.7 214.4,254.8 218.3,253.4 225.0,251.6 234.4,249.5 250.0,244.3 256.4,241.2 276.8,234.9 297.2,229.6 319.1,224.6 338.0,219.2 353.6,215.5 372.5,207.3 381.9,204.2 392.0,201.2 406.9,198.5 423.8,194.6 440.6,190.0 457.5,186.6 476.9,182.8 497.0,179.1 511.0,176.2 532.1,172.3 545.6,168.8 562.5,165.0 587.2,160.0" fill="none" stroke="#ff0000" stroke-width="1" />
<polyline points="3.0,281.4 45.6,281.1 67.5,279.1 84.4,275.4 92.8,273.6 101.0,271.0 110.0,269.3 121.0,266.8 132.0,263.1 139.5,259.7 154.5,254.0 169.1,246.9 177.5,242.5 183.8,239.8 204.5,230.2 225.0,221.6 230.0,219.2 243.8,213.6 262.7,203.5 287.8,191.0 312.9,180.0 338.0,169.0 353.6,162.8 372.5,153.3 388.2,147.9 395.0,146.6 415.3,144.8 433.9,141.4 441.0,139.7 448.4,137.8 454.0,135.6 459.5,134.1 464.3,132.5 477.8,129.9 491.3,127.1 508.5,125.0 528.8,121.2 545.6,118.6 559.1,116.9 575.0,116.5 587.2,116.4" fill="none" stroke="#00ff7f" stroke-width="1" />
<polyline points="2.5,271.4 16.5,269.5 25.0,268.8 30.4,267.6 34.0,267.2 59.0,262.8 76.0,260.1 90.0,254.9 99.6,249.9 110.0,247.6 116.8,246.2 132.0,238.6 148.8,231.9 164.0,222.9 172.4,216.7 182.6,211.6 192.7,204.9 204.5,196.4 214.6,191.4 225.0,188.3 230.0,185.8 240.7,182.2 259.5,171.5 276.8,162.8 292.5,150.2 316.0,136.1 335.0,125.6 345.0,120.5 355.3,116.3 368.8,107.9 375.5,102.0 385.6,96.1 393.2,93.5 399.1,93.5 406.0,95.0 419.4,97.8 432.2,98.6 439.6,100.4 455.0,101.2 469.3,101.6 473.0,103.0 477.8,104.6 482.0,106.0 495.0,107.7 511.9,111.4 528.8,115.3 538.9,117.8 550.7,121.2 562.5,123.4 569.3,123.7 578.0,125.5 582.8,126.7 587.2,127.6" fill="none" stroke="#000" stroke-width="1" />
<rect x="3" y="20" width="665" height="1" fill="#fff"/>
<path d="M3 20h18v1h-18zM27 20h18v1h-18zM51 20h18v1h-18zM75 20h18v1h-18zM99 20h18v1h-18zM123 20h18v1h-18zM147 20h18v1h-18zM171 20h18v1h-18zM195 20h18v1h-18zM219 20h18v1h-18zM243 20h18v1h-18zM267 20h18v1h-18zM291 20h18v1h-18zM315 20h18v1h-18zM339 20h18v1h-18zM363 20h18v1h-18zM387 20h18v1h-18zM411 20h18v1h-18zM435 20h18v1h-18zM459 20h18v1h-18zM483 20h18v1h-18zM507 20h18v1h-18zM531 20h18v1h-18zM555 20h18v1h-18zM579 20h18v1h-18zM603 20h18v1h-18zM627 20h18v1h-18zM651 20h17v1h-17z" fill="#90ee90"/>
<rect x="3" y="54" width="665" height="1" fill="#fff"/>
<path d="M3 54h18v1h-18zM27 54h18v1h-18zM51 54h18v1h-18zM75 54h18v1h-18zM99 54h18v1h-18zM123 54h18v1h-18zM147 54h18v1h-18zM171 54h18v1h-18zM195 54h18v1h-18zM219 54h18v1h-18zM243 54h18v1h-18zM267 54h18v1h-18zM291 54h18v1h-18zM315 54h18v1h-18zM339 54h18v1h-18zM363 54h18v1h-18zM387 54h18v1h-18zM411 54h18v1h-18zM435 54h18v1h-18zM459 54h18v1h-18zM483 54h18v1h-18zM507 54h18v1h-18zM531 54h18v1h-18zM555 54h18v1h-18zM579 54h18v1h-18zM603 54h18v1h-18zM627 54h18v1h-18zM651 54h17v1h-17z" fill="#90ee90"/>
<rect x="3" y="78" width="665" height="1" fill="#fff"/>
<path d="M3 78h18v1h-18zM27 78h18v1h-18zM51 78h18v1h-18zM75 78h18v1h-18zM99 78h18v1h-18zM123 78h18v1h-18zM147 78h18v1h-18zM171 78h18v1h-18zM195 78h18v1h-18zM219 78h18v1h-18zM243 78h18v1h-18zM267 78h18v1h-18zM291 78h18v1h-18zM315 78h18v1h-18zM339 78h18v1h-18zM363 78h18v1h-18zM387 78h18v1h-18zM411 78h18v1h-18zM435 78h18v1h-18zM459 78h18v1h-18zM483 78h18v1h-18zM507 78h18v1h-18zM531 78h18v1h-18zM555 78h18v1h-18zM579 78h18v1h-18zM603 78h18v1h-18zM627 78h18v1h-18zM651 78h17v1h-17z" fill="#90ee90"/>
<rect x="3" y="105" width="665" height="1" fill="#fff"/>
<path d="M3 105h18v1h-18zM27 105h18v1h-18zM51 105h18v1h-18zM75 105h18v1h-18zM99 105h18v1h-18zM123 105h18v1h-18zM147 105h18v1h-18zM171 105h18v1h-18zM195 105h18v1h-18zM219 105h18v1h-18zM243 105h18v1h-18zM267 105h18v1h-18zM291 105h18v1h-18zM315 105h18v1h-18zM339 105h18v1h-18zM363 105h18v1h-18zM387 105h18v1h-18zM411 105h18v1h-18zM435 105h18v1h-18zM459 105h18v1h-18zM483 105h18v1h-18zM507 105h18v1h-18zM531 105h18v1h-18zM555 105h18v1h-18zM579 105h18v1h-18zM603 105h18v1h-18zM627 105h18v1h-18zM651 105h17v1h-17z" fill="#90ee90"/>
<rect x="3" y="124" width="665" height="1" fill="#fff"/>
<path d="M3 124h18v1h-18zM27 124h18v1h-18zM51 124h18v1h-18zM75 124h18v1h-18zM99 124h18v1h-18zM123 124h18v1h-18zM147 124h18v1h-18zM171 124h18v1h-18zM195 124h18v1h-18zM219 124h18v1h-18zM243 124h18v1h-18zM267 124h18v1h-18zM291 124h18v1h-18zM315 124h18v1h-18zM339 124h18v1h-18zM363 124h18v1h-18zM387 124h18v1h-18zM411 124h18v1h-18zM435 124h18v1h-18zM459 124h18v1h-18zM483 124h18v1h-18zM507 124h18v1h-18zM531 124h18v1h-18zM555 124h18v1h-18zM579 124h18v1h-18zM603 124h18v1h-18zM627 124h18v1h-18zM651 124h17v1h-17z" fill="#90ee90"/>
<rect x="3" y="170" width="665" height="1" fill="#fff"/>
<path d="M3 170h18v1h-18zM27 170h18v1h-18zM51 170h18v1h-18zM75 170h18v1h-18zM99 170h18v1h-18zM123 170h18v1h-18zM147 170h18v1h-18zM171 170h18v1h-18zM195 170h18v1h-18zM219 170h18v1h-18zM243 170h18v1h-18zM267 170h18v1h-18zM291 170h18v1h-18zM315 170h18v1h-18zM339 170h18v1h-18zM363 170h18v1h-18zM387 170h18v1h-18zM411 170h18v1h-18zM435 170h18v1h-18zM459 170h18v1h-18zM483 170h18v1h-18zM507 170h18v1h-18zM531 170h18v1h-18zM555 170h18v1h-18zM579 170h18v1h-18zM603 170h18v1h-18zM627 170h18v1h-18zM651 170h17v1h-17z" fill="#90ee90"/>
<rect x="3" y="182" width="665" height="1" fill="#fff"/>
<path d="M3 182h18v1h-18zM27 182h18v1h-18zM51 182h18v1h-18zM75 182h18v1h-18zM99 182h18v1h-18zM123 182h18v1h-18zM147 182h18v1h-18zM171 182h18v1h-18zM195 182h18v1h-18zM219 182h18v1h-18zM243 182h18v1h-18zM267 182h18v1h-18zM291 182h18v1h-18zM315 182h18v1h-18zM339 182h18v1h-18zM363 182h18v1h-18zM387 182h18v1h-18zM411 182h18v1h-18zM435 182h18v1h-18zM459 182h18v1h-18zM483 182h18v1h-18zM507 182h18v1h-18zM531 182h18v1h-18zM555 182h18v1h-18zM579 182h18v1h-18zM603 182h18v1h-18zM627 182h18v1h-18zM651 182h17v1h-17z" fill="#90ee90"/>
<rect x="3" y="203" width="665" height="1" fill="#fff"/>
<path d="M3 203h18v1h-18zM27 203h18v1h-18zM51 203h18v1h-18zM75 203h18v1h-18zM99 203h18v1h-18zM123 203h18v1h-18zM147 203h18v1h-18zM171 203h18v1h-18zM195 203h18v1h-18zM219 203h18v1h-18zM243 203h18v1h-18zM267 203h18v1h-18zM291 203h18v1h-18zM315 203h18v1h-18zM339 203h18v1h-18zM363 203h18v1h-18zM387 203h18v1h-18zM411 203h18v1h-18zM435 203h18v1h-18zM459 203h18v1h-18zM483 203h18v1h-18zM507 203h18v1h-18zM531 203h18v1h-18zM555 203h18v1h-18zM579 203h18v1h-18zM603 203h18v1h-18zM627 203h18v1h-18zM651 203h17v1h-17z" fill="#90ee90"/>
<rect x="3" y="231" width="665" height="1" fill="#fff"/>
<path d="M3 231h18v1h-18zM27 231h18v1h-18zM51 231h18v1h-18zM75 231h18v1h-18zM99 231h18v1h-18zM123 231h18v1h-18zM147 231h18v1h-18zM171 231h18v1h-18zM195 231h18v1h-18zM219 231h18v1h-18zM243 231h18v1h-18zM267 231h18v1h-18zM291 231h18v1h-18zM315 231h18v1h-18zM339 231h18v1h-18zM363 231h18v1h-18zM387 231h18v1h-18zM411 231h18v1h-18zM435 231h18v1h-18zM459 231h18v1h-18zM483 231h18v1h-18zM507 231h18v1h-18zM531 231h18v1h-18zM555 231h18v1h-18zM579 231h18v1h-18zM603 231h18v1h-18zM627 231h18v1h-18zM651 231h17v1h-17z" fill="#90ee90"/>
<rect x="3" y="254" width="665" height="1" fill="#fff"/>
<path d="M3 254h18v1h-18zM27 254h18v1h-18zM51 254h18v1h-18zM75 254h18v1h-18zM99 254h18v1h-18zM123 254h18v1h-18zM147 254h18v1h-18zM171 254h18v1h-18zM195 254h18v1h-18zM219 254h18v1h-18zM243 254h18v1h-18zM267 254h18v1h-18zM291 254h18v1h-18zM315 254h18v1h-18zM339 254h18v1h-18zM363 254h18v1h-18zM387 254h18v1h-18zM411 254h18v1h-18zM435 254h18v1h-18zM459 254h18v1h-18zM483 254h18v1h-18zM507 254h18v1h-18zM531 254h18v1h-18zM555 254h18v1h-18zM579 254h18v1h-18zM603 254h18v1h-18zM627 254h18v1h-18zM651 254h17v1h-17z" fill="#90ee90"/>
<rect x="3" y="268" width="665" height="1" fill="#fff"/>
<path d="M3 268h18v1h-18zM27 268h18v1h-18zM51 268h18v1h-18zM75 268h18v1h-18zM99 268h18v1h-18zM123 268h18v1h-18zM147 268h18v1h-18zM171 268h18v1h-18zM195 268h18v1h-18zM219 268h18v1h-18zM243 268h18v1h-18zM267 268h18v1h-18zM291 268h18v1h-18zM315 268h18v1h-18zM339 268h18v1h-18zM363 268h18v1h-18zM387 268h18v1h-18zM411 268h18v1h-18zM435 268h18v1h-18zM459 268h18v1h-18zM483 268h18v1h-18zM507 268h18v1h-18zM531 268h18v1h-18zM555 268h18v1h-18zM579 268h18v1h-18zM603 268h18v1h-18zM627 268h18v1h-18zM651 268h17v1h-17z" fill="#90ee90"/>
<rect x="3" y="349" width="665" height="1" fill="#fff"/>
<path d="M3 349h18v1h-18zM27 349h18v1h-18zM51 349h18v1h-18zM75 349h18v1h-18zM99 349h18v1h-18zM123 349h18v1h-18zM147 349h18v1h-18zM171 349h18v1h-18zM195 349h18v1h-18zM219 349h18v1h-18zM243 349h18v1h-18zM267 349h18v1h-18zM291 349h18v1h-18zM315 349h18v1h-18zM339 349h18v1h-18zM363 349h18v1h-18zM387 349h18v1h-18zM411 349h18v1h-18zM435 349h18v1h-18zM459 349h18v1h-18zM483 349h18v1h-18zM507 349h18v1h-18zM531 349h18v1h-18zM555 349h18v1h-18zM579 349h18v1h-18zM603 349h18v1h-18zM627 349h18v1h-18zM651 349h17v1h-17z" fill="#90ee90"/>
<rect x="2" y="30" width="666" height="3" fill="#008080"/>
<rect x="2" y="315" width="666" height="3" fill="#008080"/>
<rect x="2" y="202" width="426" height="3" fill="#32cd32"/>
<rect x="428" y="203" width="1" height="1" fill="#32cd32"/>
<rect x="173" y="104" width="239" height="3" fill="#32cd32"/>
<rect x="172" y="105" width="1" height="1" fill="#32cd32"/>
<rect x="412" y="105" width="1" height="1" fill="#32cd32"/>
<rect x="500" y="169" width="72" height="3" fill="#0000ff"/>
<rect x="572" y="170" width="1" height="1" fill="#0000ff"/>
<rect x="3" y="224" width="1" height="19" fill="#000"/>
<rect x="1" y="229" width="5" height="12" fill="#000"/>
<rect x="11" y="231" width="1" height="47" fill="#000"/>
<rect x="9" y="240" width="5" height="28" fill="#000"/>
<rect x="19" y="259" width="1" height="71" fill="#000"/>
<rect x="17" y="266" width="5" height="52" fill="#000"/>
<rect x="27" y="243" width="1" height="106" fill="#000"/>
<rect x="25" y="248" width="5" height="70" fill="#000"/>
<rect x="26" y="249" width="3" height="68" fill="#fff"/>
<rect x="35" y="227" width="1" height="39" fill="#000"/>
<rect x="33" y="235" width="5" height="14" fill="#000"/>
<rect x="34" y="236" width="3" height="12" fill="#fff"/>
<rect x="43" y="233" width="1" height="21" fill="#000"/>
<rect x="41" y="241" width="5" height="7" fill="#000"/>
<rect x="51" y="239" width="1" height="18" fill="#000"/>
<rect x="49" y="247" width="5" height="6" fill="#000"/>
<rect x="59" y="223" width="1" height="39" fill="#000"/>
<rect x="57" y="234" width="5" height="19" fill="#000"/>
<rect x="58" y="235" width="3" height="17" fill="#fff"/>
<rect x="67" y="222" width="1" height="29" fill="#000"/>
<rect x="65" y="233" width="5" height="2" fill="#000"/>
<rect x="75" y="217" width="1" height="32" fill="#000"/>
<rect x="73" y="231" width="5" height="4" fill="#000"/>
<rect x="74" y="232" width="3" height="2" fill="#fff"/>
<rect x="83" y="206" width="1" height="27" fill="#000"/>
<rect x="81" y="218" width="5" height="14" fill="#000"/>
<rect x="82" y="219" width="3" height="12" fill="#fff"/>
<rect x="91" y="204" width="1" height="17" fill="#000"/>
<rect x="89" y="206" width="5" height="13" fill="#000"/>
<rect x="90" y="207" width="3" height="11" fill="#fff"/>
<rect x="99" y="206" width="1" height="10" fill="#000"/>
<rect x="97" y="206" width="5" height="9" fill="#000"/>
<rect x="107" y="211" width="1" height="25" fill="#000"/>
<rect x="105" y="214" width="5" height="18" fill="#000"/>
<rect x="115" y="207" width="1" height="32" fill="#000"/>
<rect x="113" y="210" width="5" height="22" fill="#000"/>
<rect x="114" y="211" width="3" height="20" fill="#fff"/>
<rect x="123" y="167" width="1" height="45" fill="#000"/>
<rect x="121" y="186" width="5" height="25" fill="#000"/>
<rect x="122" y="187" width="3" height="23" fill="#fff"/>
<rect x="131" y="125" width="1" height="65" fill="#000"/>
<rect x="129" y="133" width="5" height="54" fill="#000"/>
<rect x="130" y="134" width="3" height="52" fill="#fff"/>
<rect x="139" y="129" width="1" height="10" fill="#000"/>
<rect x="137" y="133" width="5" height="3" fill="#000"/>
<rect x="147" y="124" width="1" height="16" fill="#000"/>
<rect x="145" y="135" width="5" height="2" fill="#000"/>
<rect x="155" y="116" width="1" height="25" fill="#000"/>
<rect x="153" y="117" width="5" height="20" fill="#000"/>
<rect x="154" y="118" width="3" height="18" fill="#fff"/>
<rect x="163" y="111" width="1" height="43" fill="#000"/>
<rect x="161" y="117" width="5" height="7" fill="#000"/>
<rect x="171" y="96" width="1" height="36" fill="#000"/>
<rect x="169" y="104" width="5" height="20" fill="#000"/>
<rect x="170" y="105" width="3" height="18" fill="#fff"/>
<rect x="179" y="102" width="1" height="30" fill="#000"/>
<rect x="177" y="104" width="5" height="23" fill="#000"/>
<rect x="187" y="120" width="1" height="24" fill="#000"/>
<rect x="185" y="126" width="5" height="2" fill="#000"/>
<rect x="195" y="125" width="1" height="8" fill="#000"/>
<rect x="193" y="127" width="5" height="3" fill="#000"/>
<rect x="203" y="77" width="1" height="70" fill="#000"/>
<rect x="201" y="80" width="5" height="50" fill="#000"/>
<rect x="202" y="81" width="3" height="48" fill="#fff"/>
<rect x="211" y="72" width="1" height="33" fill="#000"/>
<rect x="209" y="77" width="5" height="5" fill="#000"/>
<rect x="210" y="78" width="3" height="3" fill="#fff"/>
<rect x="219" y="76" width="1" height="47" fill="#000"/>
<rect x="217" y="77" width="5" height="39" fill="#000"/>
<rect x="227" y="102" width="1" height="16" fill="#000"/>
<rect x="225" y="109" width="5" height="7" fill="#000"/>
<rect x="226" y="110" width="3" height="5" fill="#fff"/>
<rect x="235" y="105" width="1" height="10" fill="#000"/>
<rect x="233" y="109" width="5" height="3" fill="#000"/>
<rect x="243" y="101" width="1" height="15" fill="#000"/>
<rect x="241" y="107" width="5" height="5" fill="#000"/>
<rect x="242" y="108" width="3" height="3" fill="#fff"/>
<rect x="251" y="87" width="1" height="29" fill="#000"/>
<rect x="249" y="88" width="5" height="20" fill="#000"/>
<rect x="250" y="89" width="3" height="18" fill="#fff"/>
<rect x="259" y="38" width="1" height="87" fill="#000"/>
<rect x="257" y="39" width="5" height="50" fill="#000"/>
<rect x="258" y="40" width="3" height="48" fill="#fff"/>
<rect x="267" y="38" width="1" height="74" fill="#000"/>
<rect x="265" y="39" width="5" height="58" fill="#000"/>
<rect x="275" y="73" width="1" height="34" fill="#000"/>
<rect x="273" y="80" width="5" height="16" fill="#000"/>
<rect x="274" y="81" width="3" height="14" fill="#fff"/>
<rect x="283" y="74" width="1" height="28" fill="#000"/>
<rect x="281" y="77" width="5" height="25" fill="#000"/>
<rect x="282" y="78" width="3" height="23" fill="#fff"/>
<rect x="291" y="74" width="1" height="18" fill="#000"/>
<rect x="289" y="77" width="5" height="14" fill="#000"/>
<rect x="299" y="80" width="1" height="34" fill="#000"/>
<rect x="297" y="90" width="5" height="8" fill="#000"/>
<rect x="307" y="48" width="1" height="54" fill="#000"/>
<rect x="305" y="54" width="5" height="44" fill="#000"/>
<rect x="306" y="55" width="3" height="42" fill="#fff"/>
<rect x="315" y="31" width="1" height="67" fill="#000"/>
<rect x="313" y="54" width="5" height="38" fill="#000"/>
<rect x="323" y="79" width="1" height="23" fill="#000"/>
<rect x="321" y="83" width="5" height="9" fill="#000"/>
<rect x="322" y="84" width="3" height="7" fill="#fff"/>
<rect x="331" y="80" width="1" height="17" fill="#000"/>
<rect x="329" y="83" width="5" height="13" fill="#000"/>
<rect x="339" y="61" width="1" height="35" fill="#000"/>
<rect x="337" y="72" width="5" height="24" fill="#000"/>
<rect x="338" y="73" width="3" height="22" fill="#fff"/>
<rect x="347" y="66" width="1" height="46" fill="#000"/>
<rect x="345" y="72" width="5" height="21" fill="#000"/>
<rect x="355" y="64" width="1" height="40" fill="#000"/>
<rect x="353" y="92" width="5" height="12" fill="#000"/>
<rect x="363" y="20" width="1" height="95" fill="#000"/>
<rect x="361" y="32" width="5" height="72" fill="#000"/>
<rect x="362" y="33" width="3" height="70" fill="#fff"/>
<rect x="371" y="21" width="1" height="29" fill="#000"/>
<rect x="369" y="32" width="5" height="10" fill="#000"/>
<rect x="379" y="35" width="1" height="12" fill="#000"/>
<rect x="377" y="41" width="5" height="2" fill="#000"/>
<rect x="387" y="33" width="1" height="37" fill="#000"/>
<rect x="385" y="41" width="5" height="25" fill="#000"/>
<rect x="395" y="60" width="1" height="57" fill="#000"/>
<rect x="393" y="64" width="5" height="50" fill="#000"/>
<rect x="403" y="107" width="1" height="82" fill="#000"/>
<rect x="401" y="113" width="5" height="54" fill="#000"/>
<rect x="411" y="157" width="1" height="73" fill="#000"/>
<rect x="409" y="166" width="5" height="35" fill="#000"/>
<rect x="419" y="157" width="1" height="51" fill="#000"/>
<rect x="417" y="159" width="5" height="42" fill="#000"/>
<rect x="418" y="160" width="3" height="40" fill="#fff"/>
<rect x="427" y="157" width="1" height="11" fill="#000"/>
<rect x="425" y="159" width="5" height="3" fill="#000"/>
<rect x="435" y="141" width="1" height="41" fill="#000"/>
<rect x="433" y="142" width="5" height="20" fill="#000"/>
<rect x="434" y="143" width="3" height="18" fill="#fff"/>
<rect x="443" y="129" width="1" height="20" fill="#000"/>
<rect x="441" y="139" width="5" height="4" fill="#000"/>
<rect x="442" y="140" width="3" height="2" fill="#fff"/>
<rect x="451" y="121" width="1" height="34" fill="#000"/>
<rect x="449" y="139" width="5" height="1" fill="#000"/>
<rect x="459" y="134" width="1" height="41" fill="#000"/>
<rect x="457" y="138" width="5" height="2" fill="#000"/>
<rect x="467" y="132" width="1" height="32" fill="#000"/>
<rect x="465" y="138" width="5" height="13" fill="#000"/>
<rect x="475" y="149" width="1" height="13" fill="#000"/>
<rect x="473" y="150" width="5" height="11" fill="#000"/>
<rect x="483" y="143" width="1" height="18" fill="#000"/>
<rect x="481" y="159" width="5" height="2" fill="#000"/>
<rect x="491" y="132" width="1" height="33" fill="#000"/>
<rect x="489" y="156" width="5" height="4" fill="#000"/>
<rect x="490" y="157" width="3" height="2" fill="#fff"/>
<rect x="499" y="147" width="1" height="37" fill="#000"/>
<rect x="497" y="157" width="5" height="15" fill="#000"/>
<rect x="507" y="128" width="1" height="45" fill="#000"/>
<rect x="505" y="152" width="5" height="20" fill="#000"/>
<rect x="506" y="153" width="3" height="18" fill="#fff"/>
<rect x="515" y="136" width="1" height="24" fill="#000"/>
<rect x="513" y="152" width="5" height="3" fill="#000"/>
<rect x="523" y="134" width="1" height="25" fill="#000"/>
<rect x="521" y="142" width="5" height="14" fill="#000"/>
<rect x="522" y="143" width="3" height="12" fill="#fff"/>
<rect x="531" y="132" width="1" height="14" fill="#000"/>
<rect x="529" y="136" width="5" height="7" fill="#000"/>
<rect x="530" y="137" width="3" height="5" fill="#fff"/>
<rect x="539" y="117" width="1" height="46" fill="#000"/>
<rect x="537" y="136" width="5" height="16" fill="#000"/>
<rect x="547" y="132" width="1" height="39" fill="#000"/>
<rect x="545" y="151" width="5" height="6" fill="#000"/>
<rect x="555" y="120" width="1" height="42" fill="#000"/>
<rect x="553" y="146" width="5" height="12" fill="#000"/>
<rect x="554" y="147" width="3" height="10" fill="#fff"/>
<rect x="563" y="126" width="1" height="25" fill="#000"/>
<rect x="561" y="127" width="5" height="20" fill="#000"/>
<rect x="562" y="128" width="3" height="18" fill="#fff"/>
<rect x="571" y="122" width="1" height="13" fill="#000"/>
<rect x="569" y="128" width="5" height="2" fill="#000"/>
<rect x="579" y="121" width="1" height="16" fill="#000"/>
<rect x="577" y="122" width="5" height="8" fill="#000"/>
<rect x="578" y="123" width="3" height="6" fill="#fff"/>
<rect x="587" y="122" width="1" height="2" fill="#000"/>
<rect x="585" y="122" width="5" height="2" fill="#000"/>
</g>
<g clip-path="url(#c2)">
<rect x="11" y="439" width="1" height="46" fill="#c0c0c0"/>
<rect x="19" y="461" width="1" height="24" fill="#c0c0c0"/>
<rect x="27" y="462" width="1" height="23" fill="#c0c0c0"/>
<rect x="35" y="458" width="1" height="27" fill="#c0c0c0"/>
<rect x="43" y="461" width="1" height="24" fill="#c0c0c0"/>
<rect x="51" y="464" width="1" height="21" fill="#c0c0c0"/>
<rect x="59" y="462" width="1" height="23" fill="#c0c0c0"/>
<rect x="67" y="458" width="1" height="27" fill="#c0c0c0"/>
<rect x="75" y="457" width="1" height="28" fill="#c0c0c0"/>
<rect x="83" y="456" width="1" height="29" fill="#c0c0c0"/>
<rect x="91" y="450" width="1" height="35" fill="#c0c0c0"/>
<rect x="99" y="446" width="1" height="39" fill="#c0c0c0"/>
<rect x="107" y="451" width="1" height="34" fill="#c0c0c0"/>
<rect x="115" y="449" width="1" height="36" fill="#c0c0c0"/>
<rect x="123" y="442" width="1" height="43" fill="#c0c0c0"/>
<rect x="131" y="423" width="1" height="62" fill="#c0c0c0"/>
<rect x="139" y="412" width="1" height="73" fill="#c0c0c0"/>
<rect x="147" y="403" width="1" height="82" fill="#c0c0c0"/>
<rect x="155" y="393" width="1" height="92" fill="#c0c0c0"/>
<rect x="163" y="386" width="1" height="99" fill="#c0c0c0"/>
<rect x="171" y="379" width="1" height="106" fill="#c0c0c0"/>
<rect x="179" y="380" width="1" height="105" fill="#c0c0c0"/>
<rect x="187" y="381" width="1" height="104" fill="#c0c0c0"/>
<rect x="195" y="381" width="1" height="104" fill="#c0c0c0"/>
<rect x="203" y="376" width="1" height="109" fill="#c0c0c0"/>
<rect x="211" y="370" width="1" height="115" fill="#c0c0c0"/>
<rect x="219" y="376" width="1" height="109" fill="#c0c0c0"/>
<rect x="227" y="379" width="1" height="106" fill="#c0c0c0"/>
<rect x="235" y="386" width="1" height="99" fill="#c0c0c0"/>
<rect x="243" y="390" width="1" height="95" fill="#c0c0c0"/>
<rect x="251" y="390" width="1" height="95" fill="#c0c0c0"/>
<rect x="259" y="381" width="1" height="104" fill="#c0c0c0"/>
<rect x="267" y="385" width="1" height="100" fill="#c0c0c0"/>
<rect x="275" y="388" width="1" height="97" fill="#c0c0c0"/>
<rect x="283" y="390" width="1" height="95" fill="#c0c0c0"/>
<rect x="291" y="396" width="1" height="89" fill="#c0c0c0"/>
<rect x="299" y="404" width="1" height="81" fill="#c0c0c0"/>
<rect x="307" y="400" width="1" height="85" fill="#c0c0c0"/>
<rect x="315" y="407" width="1" height="78" fill="#c0c0c0"/>
<rect x="323" y="410" width="1" height="75" fill="#c0c0c0"/>
<rect x="331" y="419" width="1" height="66" fill="#c0c0c0"/>
<rect x="339" y="420" width="1" height="65" fill="#c0c0c0"/>
<rect x="347" y="426" width="1" height="59" fill="#c0c0c0"/>
<rect x="355" y="434" width="1" height="51" fill="#c0c0c0"/>
<rect x="363" y="425" width="1" height="60" fill="#c0c0c0"/>
<rect x="371" y="421" width="1" height="64" fill="#c0c0c0"/>
<rect x="379" y="419" width="1" height="66" fill="#c0c0c0"/>
<rect x="387" y="420" width="1" height="65" fill="#c0c0c0"/>
<rect x="395" y="436" width="1" height="49" fill="#c0c0c0"/>
<rect x="403" y="461" width="1" height="24" fill="#c0c0c0"/>
<rect x="411" y="485" width="1" height="3" fill="#c0c0c0"/>
<rect x="419" y="485" width="1" height="21" fill="#c0c0c0"/>
<rect x="427" y="485" width="1" height="25" fill="#c0c0c0"/>
<rect x="435" y="485" width="1" height="29" fill="#c0c0c0"/>
<rect x="443" y="485" width="1" height="30" fill="#c0c0c0"/>
<rect x="451" y="485" width="1" height="32" fill="#c0c0c0"/>
<rect x="459" y="485" width="1" height="31" fill="#c0c0c0"/>
<rect x="467" y="485" width="1" height="33" fill="#c0c0c0"/>
<rect x="475" y="485" width="1" height="37" fill="#c0c0c0"/>
<rect x="483" y="485" width="1" height="42" fill="#c0c0c0"/>
<rect x="491" y="485" width="1" height="40" fill="#c0c0c0"/>
<rect x="499" y="485" width="1" height="44" fill="#c0c0c0"/>
<rect x="507" y="485" width="1" height="42" fill="#c0c0c0"/>
<rect x="515" y="485" width="1" height="39" fill="#c0c0c0"/>
<rect x="523" y="485" width="1" height="36" fill="#c0c0c0"/>
<rect x="531" y="485" width="1" height="31" fill="#c0c0c0"/>
<rect x="539" y="485" width="1" height="30" fill="#c0c0c0"/>
<rect x="547" y="485" width="1" height="31" fill="#c0c0c0"/>
<rect x="555" y="485" width="1" height="27" fill="#c0c0c0"/>
<rect x="563" y="485" width="1" height="21" fill="#c0c0c0"/>
<rect x="571" y="485" width="1" height="15" fill="#c0c0c0"/>
<rect x="579" y="485" width="1" height="10" fill="#c0c0c0"/>
<rect x="587" y="485" width="1" height="5" fill="#c0c0c0"/>
<polyline points="3.0,430.0 8.0,429.2 11.8,429.0 16.0,429.3 25.3,431.5 35.4,436.3 45.6,441.2 57.4,448.8 67.5,453.9 76.0,458.3 82.7,459.5 91.1,459.5 99.6,457.4 109.7,456.4 115.2,455.5 120.0,453.9 126.6,450.9 131.7,447.7 139.5,443.2 149.4,434.8 159.2,426.0 169.1,417.2 178.9,407.7 188.8,398.5 198.6,390.6 208.4,384.7 218.3,380.4 228.1,378.4 236.0,378.4 240.0,378.8 247.9,380.9 259.0,381.0 261.5,380.2 267.0,380.2 275.4,382.5 291.2,386.3 299.1,389.4 308.9,390.8 318.8,393.5 328.6,398.5 338.4,403.4 348.3,408.3 356.2,412.8 366.0,416.2 370.0,417.3 379.8,419.5 387.7,420.3 395.6,423.2 403.5,428.5 419.2,444.3 431.0,456.1 438.9,466.9 448.8,481.3 458.6,494.5 468.4,505.3 476.3,511.8 484.2,515.6 496.0,518.3 507.5,521.2 516.5,522.6 536.8,522.6 548.0,520.8 561.5,518.8 570.5,515.1 579.5,511.3 587.5,507.7" fill="none" stroke="#ff0000" stroke-width="2" stroke-linejoin="round"/>
</g>
<g clip-path="url(#c3)">
<polyline points="3.5,598.2 11.5,625.2 19.5,662.0 27.5,652.2 35.5,626.4 43.5,598.2 51.5,600.6 59.5,599.9 67.5,595.7 75.5,588.3 83.5,581.0 91.5,566.2 99.5,553.5 107.5,556.4 115.5,557.6 123.5,560.1 131.5,553.5 139.5,554.7 147.5,553.2 155.5,550.3 163.5,550.8 171.5,549.8 179.5,561.3 187.5,568.0 195.5,579.3 203.5,567.5 211.5,555.9 219.5,560.1 227.5,574.8 235.5,601.9 243.5,611.2 251.5,606.8 259.5,573.6 267.5,584.7 275.5,593.3 283.5,615.4 291.5,611.7 299.5,621.5 307.5,614.1 315.5,622.2 323.5,622.2 331.5,650.5 339.5,638.2 347.5,644.8 355.5,649.0 363.5,630.1 371.5,604.3 379.5,574.5 387.5,593.6 395.5,636.2 403.5,679.2 411.5,695.2 419.5,680.4 427.5,669.4 435.5,652.2 443.5,646.0 451.5,640.7 459.5,639.4 467.5,641.9 475.5,646.0 483.5,651.0 491.5,648.5 499.5,643.1 507.5,626.2 515.5,613.5 523.5,598.2 531.5,596.9 539.5,603.1 547.5,619.0 555.5,632.0 563.5,611.7 571.5,585.9 579.5,563.3 587.5,560.1" fill="none" stroke="#20b2aa" stroke-width="1" />
<polyline points="3.5,583.4 11.5,604.3 19.5,628.5 27.5,646.5 35.5,646.9 43.5,625.6 51.5,608.4 59.5,599.6 67.5,598.7 75.5,594.6 83.5,588.3 91.5,578.5 99.5,566.9 107.5,558.7 115.5,555.8 123.5,558.0 131.5,557.1 139.5,556.1 147.5,553.8 155.5,552.7 163.5,551.4 171.5,550.3 179.5,554.0 187.5,559.7 195.5,569.5 203.5,571.6 211.5,567.6 219.5,561.2 227.5,563.6 235.5,578.9 243.5,596.0 251.5,606.6 259.5,597.2 267.5,588.4 275.5,583.9 283.5,597.8 291.5,606.8 299.5,616.2 307.5,615.8 315.5,619.3 323.5,619.5 331.5,631.6 339.5,637.0 347.5,644.5 355.5,644.0 363.5,641.3 371.5,627.8 379.5,603.0 387.5,590.8 395.5,601.4 403.5,636.3 411.5,670.2 419.5,684.9 427.5,681.7 435.5,667.3 443.5,655.9 451.5,646.3 459.5,642.0 467.5,640.7 475.5,642.4 483.5,646.3 491.5,648.5 499.5,647.5 507.5,639.3 515.5,627.6 523.5,612.6 531.5,602.9 539.5,599.4 547.5,606.3 555.5,618.0 563.5,620.9 571.5,609.9 579.5,587.0 587.5,569.8" fill="none" stroke="#ff0000" stroke-width="1" stroke-dasharray="3 3"/>
</g>
<rect x="2" y="2" width="667" height="1" fill="#000"/>
<rect x="2" y="358" width="667" height="1" fill="#000"/>
<rect x="2" y="2" width="1" height="357" fill="#000"/>
<rect x="668" y="2" width="1" height="357" fill="#000"/>
<rect x="2" y="360" width="667" height="1" fill="#000"/>
<rect x="2" y="537" width="667" height="1" fill="#000"/>
<rect x="2" y="360" width="1" height="178" fill="#000"/>
<rect x="668" y="360" width="1" height="178" fill="#000"/>
<rect x="2" y="539" width="667" height="1" fill="#000"/>
<rect x="2" y="715" width="667" height="1" fill="#000"/>
<rect x="2" y="539" width="1" height="177" fill="#000"/>
<rect x="668" y="539" width="1" height="177" fill="#000"/>
<rect x="2" y="30" width="1" height="3" fill="#008080"/>
<rect x="668" y="30" width="2" height="3" fill="#008080"/>
<rect x="2" y="315" width="1" height="3" fill="#008080"/>
<rect x="668" y="315" width="2" height="3" fill="#008080"/>
<rect x="669" y="25" width="2" height="1" fill="#000"/>
<text x="674.2" y="28" font-size="10" fill="#000" stroke="#000" stroke-width="0.15" textLength="32.4" lengthAdjust="spacingAndGlyphs">0.98970</text>
<rect x="669" y="58" width="2" height="1" fill="#000"/>
<text x="674.2" y="61" font-size="10" fill="#000" stroke="#000" stroke-width="0.15" textLength="32.4" lengthAdjust="spacingAndGlyphs">0.98610</text>
<rect x="669" y="91" width="2" height="1" fill="#000"/>
<text x="674.2" y="94" font-size="10" fill="#000" stroke="#000" stroke-width="0.15" textLength="32.4" lengthAdjust="spacingAndGlyphs">0.98260</text>
<rect x="669" y="124" width="2" height="1" fill="#000"/>
<text x="674.2" y="127" font-size="10" fill="#000" stroke="#000" stroke-width="0.15" textLength="32.4" lengthAdjust="spacingAndGlyphs">0.97900</text>
<rect x="669" y="157" width="2" height="1" fill="#000"/>
<text x="674.2" y="160" font-size="10" fill="#000" stroke="#000" stroke-width="0.15" textLength="32.4" lengthAdjust="spacingAndGlyphs">0.97540</text>
<rect x="669" y="190" width="2" height="1" fill="#000"/>
<text x="674.2" y="193" font-size="10" fill="#000" stroke="#000" stroke-width="0.15" textLength="32.4" lengthAdjust="spacingAndGlyphs">0.97190</text>
<rect x="669" y="223" width="2" height="1" fill="#000"/>
<text x="674.2" y="226" font-size="10" fill="#000" stroke="#000" stroke-width="0.15" textLength="32.4" lengthAdjust="spacingAndGlyphs">0.96830</text>
<rect x="669" y="256" width="2" height="1" fill="#000"/>
<text x="674.2" y="259" font-size="10" fill="#000" stroke="#000" stroke-width="0.15" textLength="32.4" lengthAdjust="spacingAndGlyphs">0.96470</text>
<rect x="669" y="289" width="2" height="1" fill="#000"/>
<text x="674.2" y="292" font-size="10" fill="#000" stroke="#000" stroke-width="0.15" textLength="32.4" lengthAdjust="spacingAndGlyphs">0.96120</text>
<rect x="669" y="322" width="2" height="1" fill="#000"/>
<text x="674.2" y="325" font-size="10" fill="#000" stroke="#000" stroke-width="0.15" textLength="32.4" lengthAdjust="spacingAndGlyphs">0.95760</text>
<rect x="669" y="355" width="2" height="1" fill="#000"/>
<text x="674.2" y="358" font-size="10" fill="#000" stroke="#000" stroke-width="0.15" textLength="32.4" lengthAdjust="spacingAndGlyphs">0.95410</text>
<rect x="670" y="117" width="41" height="11" fill="#000"/>
<rect x="670" y="14" width="41" height="11" fill="#90ee90"/>
<text x="674.2" y="23" font-size="10" fill="#fff" stroke="#fff" stroke-width="0.15" textLength="32.4" lengthAdjust="spacingAndGlyphs">0.99025</text>
<rect x="670" y="48" width="41" height="11" fill="#90ee90"/>
<text x="674.2" y="57" font-size="10" fill="#fff" stroke="#fff" stroke-width="0.15" textLength="32.4" lengthAdjust="spacingAndGlyphs">0.98650</text>
<rect x="670" y="72" width="41" height="11" fill="#90ee90"/>
<text x="674.2" y="81" font-size="10" fill="#fff" stroke="#fff" stroke-width="0.15" textLength="32.4" lengthAdjust="spacingAndGlyphs">0.98400</text>
<rect x="670" y="99" width="41" height="11" fill="#90ee90"/>
<text x="674.2" y="108" font-size="10" fill="#fff" stroke="#fff" stroke-width="0.15" textLength="32.4" lengthAdjust="spacingAndGlyphs">0.98100</text>
<rect x="670" y="118" width="41" height="11" fill="#90ee90"/>
<text x="674.2" y="127" font-size="10" fill="#fff" stroke="#fff" stroke-width="0.15" textLength="32.4" lengthAdjust="spacingAndGlyphs">0.97900</text>
<rect x="670" y="164" width="41" height="11" fill="#90ee90"/>
<text x="674.2" y="173" font-size="10" fill="#fff" stroke="#fff" stroke-width="0.15" textLength="32.4" lengthAdjust="spacingAndGlyphs">0.97400</text>
<rect x="670" y="176" width="41" height="11" fill="#90ee90"/>
<text x="674.2" y="185" font-size="10" fill="#fff" stroke="#fff" stroke-width="0.15" textLength="32.4" lengthAdjust="spacingAndGlyphs">0.97275</text>
<rect x="670" y="197" width="41" height="11" fill="#90ee90"/>
<text x="674.2" y="206" font-size="10" fill="#fff" stroke="#fff" stroke-width="0.15" textLength="32.4" lengthAdjust="spacingAndGlyphs">0.97050</text>
<rect x="670" y="225" width="41" height="11" fill="#90ee90"/>
<text x="674.2" y="234" font-size="10" fill="#fff" stroke="#fff" stroke-width="0.15" textLength="32.4" lengthAdjust="spacingAndGlyphs">0.96750</text>
<rect x="670" y="248" width="41" height="11" fill="#90ee90"/>
<text x="674.2" y="257" font-size="10" fill="#fff" stroke="#fff" stroke-width="0.15" textLength="32.4" lengthAdjust="spacingAndGlyphs">0.96500</text>
<rect x="670" y="262" width="41" height="11" fill="#90ee90"/>
<text x="674.2" y="271" font-size="10" fill="#fff" stroke="#fff" stroke-width="0.15" textLength="32.4" lengthAdjust="spacingAndGlyphs">0.96350</text>
<rect x="670" y="343" width="41" height="11" fill="#90ee90"/>
<text x="674.2" y="352" font-size="10" fill="#fff" stroke="#fff" stroke-width="0.15" textLength="32.4" lengthAdjust="spacingAndGlyphs">0.95475</text>
<rect x="670" y="25" width="41" height="11" fill="#008080"/>
<text x="674.2" y="34" font-size="10" fill="#fff" stroke="#fff" stroke-width="0.15" textLength="32.4" lengthAdjust="spacingAndGlyphs">0.98900</text>
<rect x="670" y="310" width="41" height="11" fill="#008080"/>
<text x="674.2" y="319" font-size="10" fill="#fff" stroke="#fff" stroke-width="0.15" textLength="32.4" lengthAdjust="spacingAndGlyphs">0.95825</text>
<rect x="669" y="362" width="1" height="1" fill="#000"/>
<text x="671.6" y="371" font-size="10" fill="#000" stroke="#000" stroke-width="0.15" textLength="37.8" lengthAdjust="spacingAndGlyphs">0.004513</text>
<rect x="669" y="485" width="1" height="1" fill="#000"/>
<text x="671.9" y="488" font-size="10" fill="#000" stroke="#000" stroke-width="0.15" textLength="18.2" lengthAdjust="spacingAndGlyphs">0.00</text>
<rect x="669" y="536" width="1" height="1" fill="#000"/>
<text x="671.7" y="534" font-size="10" fill="#000" stroke="#000" stroke-width="0.15" textLength="42" lengthAdjust="spacingAndGlyphs">-0.001859</text>
<rect x="669" y="541" width="1" height="1" fill="#000"/>
<text x="671.7" y="550" font-size="10" fill="#000" stroke="#000" stroke-width="0.15" textLength="15.5" lengthAdjust="spacingAndGlyphs">100</text>
<rect x="669" y="575" width="1" height="1" fill="#000"/>
<text x="670.5" y="578" font-size="10" fill="#000" stroke="#000" stroke-width="0.15" textLength="11" lengthAdjust="spacingAndGlyphs">80</text>
<rect x="669" y="680" width="1" height="1" fill="#000"/>
<text x="670.5" y="683" font-size="10" fill="#000" stroke="#000" stroke-width="0.15" textLength="11" lengthAdjust="spacingAndGlyphs">20</text>
<rect x="669" y="714" width="1" height="1" fill="#000"/>
<text x="671.5" y="712" font-size="10" fill="#000" stroke="#000" stroke-width="0.15" textLength="6" lengthAdjust="spacingAndGlyphs">0</text>
<rect x="3" y="716" width="1" height="3" fill="#000"/>
<text x="1.7" y="728" font-size="10" fill="#000" stroke="#000" stroke-width="0.15" textLength="47.5" lengthAdjust="spacingAndGlyphs">31 Jul 2015</text>
<rect x="67" y="716" width="1" height="3" fill="#000"/>
<text x="66.1" y="728" font-size="10" fill="#000" stroke="#000" stroke-width="0.15" textLength="51.6" lengthAdjust="spacingAndGlyphs">3 Aug 12:00</text>
<rect x="131" y="716" width="1" height="3" fill="#000"/>
<text x="130.1" y="728" font-size="10" fill="#000" stroke="#000" stroke-width="0.15" textLength="51.6" lengthAdjust="spacingAndGlyphs">4 Aug 20:00</text>
<rect x="195" y="716" width="1" height="3" fill="#000"/>
<text x="194.1" y="728" font-size="10" fill="#000" stroke="#000" stroke-width="0.15" textLength="51.6" lengthAdjust="spacingAndGlyphs">6 Aug 04:00</text>
<rect x="259" y="716" width="1" height="3" fill="#000"/>
<text x="258.1" y="728" font-size="10" fill="#000" stroke="#000" stroke-width="0.15" textLength="51.6" lengthAdjust="spacingAndGlyphs">7 Aug 12:00</text>
<rect x="323" y="716" width="1" height="3" fill="#000"/>
<text x="322.1" y="728" font-size="10" fill="#000" stroke="#000" stroke-width="0.15" textLength="56" lengthAdjust="spacingAndGlyphs">10 Aug 20:00</text>
<rect x="387" y="716" width="1" height="3" fill="#000"/>
<text x="386.1" y="728" font-size="10" fill="#000" stroke="#000" stroke-width="0.15" textLength="56" lengthAdjust="spacingAndGlyphs">12 Aug 04:00</text>
<rect x="451" y="716" width="1" height="3" fill="#000"/>
<text x="450.1" y="728" font-size="10" fill="#000" stroke="#000" stroke-width="0.15" textLength="56" lengthAdjust="spacingAndGlyphs">13 Aug 12:00</text>
<rect x="515" y="716" width="1" height="3" fill="#000"/>
<text x="514.1" y="728" font-size="10" fill="#000" stroke="#000" stroke-width="0.15" textLength="56" lengthAdjust="spacingAndGlyphs">14 Aug 20:00</text>
<rect x="579" y="716" width="1" height="3" fill="#000"/>
<text x="578.1" y="728" font-size="10" fill="#000" stroke="#000" stroke-width="0.15" textLength="56" lengthAdjust="spacingAndGlyphs">18 Aug 04:00</text>
<path d="M6 9h7l-3.5 4z" fill="#000" shape-rendering="auto"/>
<text x="18" y="14" font-size="10" fill="#000" stroke="#000" stroke-width="0.15" textLength="55.5" lengthAdjust="spacingAndGlyphs">USDCHF,H4</text>
<text x="79.2" y="14" font-size="10" fill="#000" stroke="#000" stroke-width="0.15" textLength="32.4" lengthAdjust="spacingAndGlyphs">0.97919</text>
<text x="115.3" y="14" font-size="10" fill="#000" stroke="#000" stroke-width="0.15" textLength="32.4" lengthAdjust="spacingAndGlyphs">0.97921</text>
<text x="151.3" y="14" font-size="10" fill="#000" stroke="#000" stroke-width="0.15" textLength="32.4" lengthAdjust="spacingAndGlyphs">0.97907</text>
<text x="187.4" y="14" font-size="10" fill="#000" stroke="#000" stroke-width="0.15" textLength="32.4" lengthAdjust="spacingAndGlyphs">0.97915</text>
<text x="7" y="373" font-size="10" fill="#000" stroke="#000" stroke-width="0.15" textLength="65.5" lengthAdjust="spacingAndGlyphs">MACD(12,26,9)</text>
<text x="76.2" y="373" font-size="10" fill="#000" stroke="#000" stroke-width="0.15" textLength="39.9" lengthAdjust="spacingAndGlyphs">-0.000131</text>
<text x="120" y="373" font-size="10" fill="#000" stroke="#000" stroke-width="0.15" textLength="39.9" lengthAdjust="spacingAndGlyphs">-0.000775</text>
<text x="7" y="552" font-size="10" fill="#000" stroke="#000" stroke-width="0.15" textLength="56" lengthAdjust="spacingAndGlyphs">Stoch(13,3,3)</text>
<text x="65.5" y="552" font-size="10" fill="#000" stroke="#000" stroke-width="0.15" textLength="32.5" lengthAdjust="spacingAndGlyphs">88.7006</text>
<text x="101.3" y="552" font-size="10" fill="#000" stroke="#000" stroke-width="0.15" textLength="32.3" lengthAdjust="spacingAndGlyphs">82.9724</text>
</svg>
</body></html>
